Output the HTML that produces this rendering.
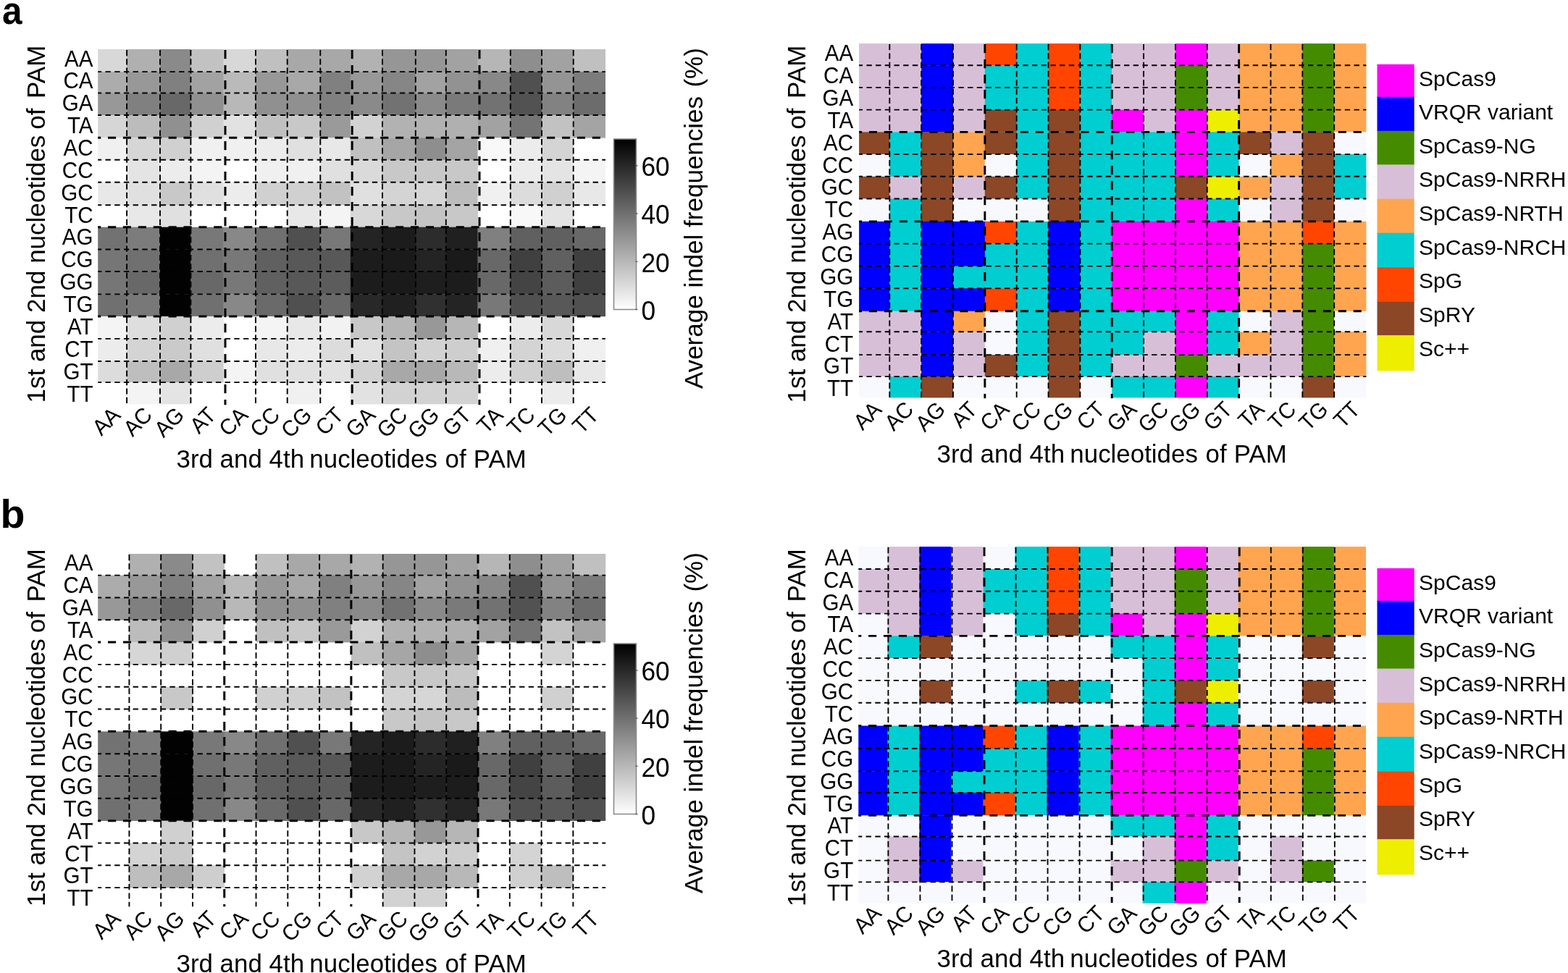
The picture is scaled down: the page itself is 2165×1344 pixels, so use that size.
<!DOCTYPE html>
<html lang="en">
<head>
<meta charset="utf-8">
<title>PAM heatmaps</title>
<style>
html,body{margin:0;padding:0;background:#fff;}
body{width:2165px;height:1344px;overflow:hidden;}
svg{display:block;font-family:'Liberation Sans', Arial, Helvetica, sans-serif;fill:#000;}
</style>
</head>
<body>
<svg width="2165" height="1344" viewBox="0 0 2165 1344" shape-rendering="geometricPrecision">
<rect x="0" y="0" width="2165" height="1344" fill="#fff"/>
<!-- panel a -->
<text font-size="53.8" font-weight="bold" transform="translate(3.0 32.5) scale(0.92 1)">a</text>
<g>
<rect x="135.2" y="68" width="40.2" height="31.4" fill="#d8d8d8"/>
<rect x="175.1" y="68" width="46.2" height="31.4" fill="#b0b0b0"/>
<rect x="221" y="68" width="42.7" height="31.4" fill="#8a8a8a"/>
<rect x="263.4" y="68" width="45.5" height="31.4" fill="#c2c2c2"/>
<rect x="308.6" y="68" width="44.7" height="31.4" fill="#d8d8d8"/>
<rect x="353" y="68" width="44" height="31.4" fill="#c0c0c0"/>
<rect x="396.7" y="68" width="87.4" height="31.4" fill="#a8a8a8"/>
<rect x="483.8" y="68" width="44.5" height="31.4" fill="#b2b2b2"/>
<rect x="528" y="68" width="88.1" height="31.4" fill="#969696"/>
<rect x="615.8" y="68" width="44.1" height="31.4" fill="#a2a2a2"/>
<rect x="659.6" y="68" width="45.5" height="31.4" fill="#b6b6b6"/>
<rect x="704.8" y="68" width="43.5" height="31.4" fill="#8e8e8e"/>
<rect x="748" y="68" width="44" height="31.4" fill="#a2a2a2"/>
<rect x="791.7" y="68" width="44.3" height="31.4" fill="#c0c0c0"/>
<rect x="135.2" y="99.1" width="40.2" height="29.7" fill="#acacac"/>
<rect x="175.1" y="99.1" width="46.2" height="29.7" fill="#989898"/>
<rect x="221" y="99.1" width="42.7" height="29.7" fill="#808080"/>
<rect x="263.4" y="99.1" width="45.5" height="29.7" fill="#a2a2a2"/>
<rect x="308.6" y="99.1" width="44.7" height="29.7" fill="#bababa"/>
<rect x="353" y="99.1" width="44" height="29.7" fill="#989898"/>
<rect x="396.7" y="99.1" width="45.9" height="29.7" fill="#a8a8a8"/>
<rect x="442.3" y="99.1" width="41.8" height="29.7" fill="#808080"/>
<rect x="483.8" y="99.1" width="44.5" height="29.7" fill="#989898"/>
<rect x="528" y="99.1" width="46.1" height="29.7" fill="#868686"/>
<rect x="573.8" y="99.1" width="42.3" height="29.7" fill="#a2a2a2"/>
<rect x="615.8" y="99.1" width="44.1" height="29.7" fill="#929292"/>
<rect x="659.6" y="99.1" width="45.5" height="29.7" fill="#888888"/>
<rect x="704.8" y="99.1" width="43.5" height="29.7" fill="#505050"/>
<rect x="748" y="99.1" width="44" height="29.7" fill="#949494"/>
<rect x="791.7" y="99.1" width="44.3" height="29.7" fill="#7c7c7c"/>
<rect x="135.2" y="128.5" width="40.2" height="30.8" fill="#989898"/>
<rect x="175.1" y="128.5" width="46.2" height="30.8" fill="#808080"/>
<rect x="221" y="128.5" width="42.7" height="30.8" fill="#686868"/>
<rect x="263.4" y="128.5" width="45.5" height="30.8" fill="#909090"/>
<rect x="308.6" y="128.5" width="44.7" height="30.8" fill="#b8b8b8"/>
<rect x="353" y="128.5" width="89.6" height="30.8" fill="#909090"/>
<rect x="442.3" y="128.5" width="41.8" height="30.8" fill="#808080"/>
<rect x="483.8" y="128.5" width="44.5" height="30.8" fill="#8a8a8a"/>
<rect x="528" y="128.5" width="46.1" height="30.8" fill="#727272"/>
<rect x="573.8" y="128.5" width="42.3" height="30.8" fill="#8a8a8a"/>
<rect x="615.8" y="128.5" width="44.1" height="30.8" fill="#7a7a7a"/>
<rect x="659.6" y="128.5" width="45.5" height="30.8" fill="#727272"/>
<rect x="704.8" y="128.5" width="43.5" height="30.8" fill="#525252"/>
<rect x="748" y="128.5" width="44" height="30.8" fill="#828282"/>
<rect x="791.7" y="128.5" width="44.3" height="30.8" fill="#6c6c6c"/>
<rect x="135.2" y="159" width="40.2" height="31.6" fill="#d6d6d6"/>
<rect x="175.1" y="159" width="46.2" height="31.6" fill="#bcbcbc"/>
<rect x="221" y="159" width="42.7" height="31.6" fill="#909090"/>
<rect x="263.4" y="159" width="45.5" height="31.6" fill="#d0d0d0"/>
<rect x="308.6" y="159" width="44.7" height="31.6" fill="#e2e2e2"/>
<rect x="353" y="159" width="44" height="31.6" fill="#c0c0c0"/>
<rect x="396.7" y="159" width="45.9" height="31.6" fill="#c8c8c8"/>
<rect x="442.3" y="159" width="41.8" height="31.6" fill="#9a9a9a"/>
<rect x="483.8" y="159" width="44.5" height="31.6" fill="#d2d2d2"/>
<rect x="528" y="159" width="88.1" height="31.6" fill="#b2b2b2"/>
<rect x="615.8" y="159" width="44.1" height="31.6" fill="#b0b0b0"/>
<rect x="659.6" y="159" width="45.5" height="31.6" fill="#a2a2a2"/>
<rect x="704.8" y="159" width="43.5" height="31.6" fill="#747474"/>
<rect x="748" y="159" width="44" height="31.6" fill="#c2c2c2"/>
<rect x="791.7" y="159" width="44.3" height="31.6" fill="#a4a4a4"/>
<rect x="135.2" y="190.3" width="40.2" height="30.7" fill="#f0f0f0"/>
<rect x="175.1" y="190.3" width="46.2" height="30.7" fill="#d6d6d6"/>
<rect x="221" y="190.3" width="42.7" height="30.7" fill="#d0d0d0"/>
<rect x="263.4" y="190.3" width="89.9" height="30.7" fill="#f0f0f0"/>
<rect x="353" y="190.3" width="44" height="30.7" fill="#ececec"/>
<rect x="396.7" y="190.3" width="45.9" height="30.7" fill="#e0e0e0"/>
<rect x="442.3" y="190.3" width="41.8" height="30.7" fill="#e8e8e8"/>
<rect x="483.8" y="190.3" width="44.5" height="30.7" fill="#c0c0c0"/>
<rect x="528" y="190.3" width="46.1" height="30.7" fill="#a6a6a6"/>
<rect x="573.8" y="190.3" width="42.3" height="30.7" fill="#8e8e8e"/>
<rect x="615.8" y="190.3" width="44.1" height="30.7" fill="#a4a4a4"/>
<rect x="659.6" y="190.3" width="45.5" height="30.7" fill="#f8f8f8"/>
<rect x="704.8" y="190.3" width="43.5" height="30.7" fill="#ececec"/>
<rect x="748" y="190.3" width="44" height="30.7" fill="#d4d4d4"/>
<rect x="175.1" y="220.7" width="46.2" height="31.3" fill="#e4e4e4"/>
<rect x="221" y="220.7" width="42.7" height="31.3" fill="#ececec"/>
<rect x="263.4" y="220.7" width="45.5" height="31.3" fill="#f4f4f4"/>
<rect x="353" y="220.7" width="89.6" height="31.3" fill="#f0f0f0"/>
<rect x="442.3" y="220.7" width="41.8" height="31.3" fill="#e0e0e0"/>
<rect x="483.8" y="220.7" width="44.5" height="31.3" fill="#dadada"/>
<rect x="528" y="220.7" width="131.9" height="31.3" fill="#c8c8c8"/>
<rect x="704.8" y="220.7" width="43.5" height="31.3" fill="#ececec"/>
<rect x="748" y="220.7" width="44" height="31.3" fill="#e4e4e4"/>
<rect x="791.7" y="220.7" width="44.3" height="31.3" fill="#f4f4f4"/>
<rect x="135.2" y="251.7" width="40.2" height="31.9" fill="#e8e8e8"/>
<rect x="175.1" y="251.7" width="46.2" height="31.9" fill="#e0e0e0"/>
<rect x="221" y="251.7" width="42.7" height="31.9" fill="#c8c8c8"/>
<rect x="263.4" y="251.7" width="45.5" height="31.9" fill="#e0e0e0"/>
<rect x="308.6" y="251.7" width="44.7" height="31.9" fill="#ececec"/>
<rect x="353" y="251.7" width="89.6" height="31.9" fill="#d0d0d0"/>
<rect x="442.3" y="251.7" width="41.8" height="31.9" fill="#c2c2c2"/>
<rect x="483.8" y="251.7" width="44.5" height="31.9" fill="#e0e0e0"/>
<rect x="528" y="251.7" width="46.1" height="31.9" fill="#d4d4d4"/>
<rect x="573.8" y="251.7" width="42.3" height="31.9" fill="#d6d6d6"/>
<rect x="615.8" y="251.7" width="44.1" height="31.9" fill="#bcbcbc"/>
<rect x="659.6" y="251.7" width="45.5" height="31.9" fill="#f0f0f0"/>
<rect x="704.8" y="251.7" width="43.5" height="31.9" fill="#dcdcdc"/>
<rect x="748" y="251.7" width="44" height="31.9" fill="#d0d0d0"/>
<rect x="791.7" y="251.7" width="44.3" height="31.9" fill="#e8e8e8"/>
<rect x="175.1" y="283.3" width="46.2" height="30.7" fill="#e8e8e8"/>
<rect x="221" y="283.3" width="42.7" height="30.7" fill="#e0e0e0"/>
<rect x="396.7" y="283.3" width="45.9" height="30.7" fill="#e8e8e8"/>
<rect x="442.3" y="283.3" width="41.8" height="30.7" fill="#f4f4f4"/>
<rect x="483.8" y="283.3" width="44.5" height="30.7" fill="#d8d8d8"/>
<rect x="528" y="283.3" width="46.1" height="30.7" fill="#c8c8c8"/>
<rect x="573.8" y="283.3" width="42.3" height="30.7" fill="#c4c4c4"/>
<rect x="615.8" y="283.3" width="44.1" height="30.7" fill="#c8c8c8"/>
<rect x="704.8" y="283.3" width="43.5" height="30.7" fill="#f8f8f8"/>
<rect x="748" y="283.3" width="44" height="30.7" fill="#e4e4e4"/>
<rect x="135.2" y="313.7" width="40.2" height="31.1" fill="#727272"/>
<rect x="175.1" y="313.7" width="46.2" height="31.1" fill="#7c7c7c"/>
<rect x="221" y="313.7" width="42.7" height="31.1" fill="#020202"/>
<rect x="263.4" y="313.7" width="45.5" height="31.1" fill="#787878"/>
<rect x="308.6" y="313.7" width="44.7" height="31.1" fill="#888888"/>
<rect x="353" y="313.7" width="44" height="31.1" fill="#707070"/>
<rect x="396.7" y="313.7" width="45.9" height="31.1" fill="#505050"/>
<rect x="442.3" y="313.7" width="41.8" height="31.1" fill="#787878"/>
<rect x="483.8" y="313.7" width="44.5" height="31.1" fill="#242424"/>
<rect x="528" y="313.7" width="46.1" height="31.1" fill="#1c1c1c"/>
<rect x="573.8" y="313.7" width="42.3" height="31.1" fill="#2c2c2c"/>
<rect x="615.8" y="313.7" width="44.1" height="31.1" fill="#202020"/>
<rect x="659.6" y="313.7" width="45.5" height="31.1" fill="#808080"/>
<rect x="704.8" y="313.7" width="87.2" height="31.1" fill="#606060"/>
<rect x="791.7" y="313.7" width="44.3" height="31.1" fill="#686868"/>
<rect x="135.2" y="344.5" width="40.2" height="30.8" fill="#767676"/>
<rect x="175.1" y="344.5" width="46.2" height="30.8" fill="#707070"/>
<rect x="221" y="344.5" width="42.7" height="30.8" fill="#020202"/>
<rect x="263.4" y="344.5" width="45.5" height="30.8" fill="#707070"/>
<rect x="308.6" y="344.5" width="44.7" height="30.8" fill="#787878"/>
<rect x="353" y="344.5" width="44" height="30.8" fill="#606060"/>
<rect x="396.7" y="344.5" width="87.4" height="30.8" fill="#585858"/>
<rect x="483.8" y="344.5" width="44.5" height="30.8" fill="#1c1c1c"/>
<rect x="528" y="344.5" width="46.1" height="30.8" fill="#1a1a1a"/>
<rect x="573.8" y="344.5" width="42.3" height="30.8" fill="#242424"/>
<rect x="615.8" y="344.5" width="44.1" height="30.8" fill="#1a1a1a"/>
<rect x="659.6" y="344.5" width="45.5" height="30.8" fill="#686868"/>
<rect x="704.8" y="344.5" width="43.5" height="30.8" fill="#404040"/>
<rect x="748" y="344.5" width="44" height="30.8" fill="#606060"/>
<rect x="791.7" y="344.5" width="44.3" height="30.8" fill="#404040"/>
<rect x="135.2" y="375" width="40.2" height="31.7" fill="#767676"/>
<rect x="175.1" y="375" width="46.2" height="31.7" fill="#686868"/>
<rect x="221" y="375" width="42.7" height="31.7" fill="#020202"/>
<rect x="263.4" y="375" width="45.5" height="31.7" fill="#686868"/>
<rect x="308.6" y="375" width="44.7" height="31.7" fill="#787878"/>
<rect x="353" y="375" width="44" height="31.7" fill="#606060"/>
<rect x="396.7" y="375" width="45.9" height="31.7" fill="#585858"/>
<rect x="442.3" y="375" width="41.8" height="31.7" fill="#5c5c5c"/>
<rect x="483.8" y="375" width="44.5" height="31.7" fill="#1c1c1c"/>
<rect x="528" y="375" width="46.1" height="31.7" fill="#1a1a1a"/>
<rect x="573.8" y="375" width="42.3" height="31.7" fill="#1e1e1e"/>
<rect x="615.8" y="375" width="44.1" height="31.7" fill="#1c1c1c"/>
<rect x="659.6" y="375" width="45.5" height="31.7" fill="#686868"/>
<rect x="704.8" y="375" width="43.5" height="31.7" fill="#444444"/>
<rect x="748" y="375" width="44" height="31.7" fill="#5c5c5c"/>
<rect x="791.7" y="375" width="44.3" height="31.7" fill="#404040"/>
<rect x="135.2" y="406.4" width="40.2" height="30.8" fill="#707070"/>
<rect x="175.1" y="406.4" width="46.2" height="30.8" fill="#787878"/>
<rect x="221" y="406.4" width="42.7" height="30.8" fill="#020202"/>
<rect x="263.4" y="406.4" width="45.5" height="30.8" fill="#707070"/>
<rect x="308.6" y="406.4" width="44.7" height="30.8" fill="#888888"/>
<rect x="353" y="406.4" width="44" height="30.8" fill="#6a6a6a"/>
<rect x="396.7" y="406.4" width="45.9" height="30.8" fill="#505050"/>
<rect x="442.3" y="406.4" width="41.8" height="30.8" fill="#686868"/>
<rect x="483.8" y="406.4" width="44.5" height="30.8" fill="#282828"/>
<rect x="528" y="406.4" width="46.1" height="30.8" fill="#202020"/>
<rect x="573.8" y="406.4" width="42.3" height="30.8" fill="#303030"/>
<rect x="615.8" y="406.4" width="44.1" height="30.8" fill="#242424"/>
<rect x="659.6" y="406.4" width="45.5" height="30.8" fill="#787878"/>
<rect x="704.8" y="406.4" width="43.5" height="30.8" fill="#505050"/>
<rect x="748" y="406.4" width="44" height="30.8" fill="#585858"/>
<rect x="791.7" y="406.4" width="44.3" height="30.8" fill="#505050"/>
<rect x="135.2" y="436.9" width="40.2" height="31.3" fill="#f4f4f4"/>
<rect x="175.1" y="436.9" width="46.2" height="31.3" fill="#dedede"/>
<rect x="221" y="436.9" width="42.7" height="31.3" fill="#d0d0d0"/>
<rect x="263.4" y="436.9" width="45.5" height="31.3" fill="#ececec"/>
<rect x="353" y="436.9" width="44" height="31.3" fill="#f4f4f4"/>
<rect x="396.7" y="436.9" width="45.9" height="31.3" fill="#e8e8e8"/>
<rect x="442.3" y="436.9" width="41.8" height="31.3" fill="#f2f2f2"/>
<rect x="483.8" y="436.9" width="44.5" height="31.3" fill="#c8c8c8"/>
<rect x="528" y="436.9" width="46.1" height="31.3" fill="#b6b6b6"/>
<rect x="573.8" y="436.9" width="42.3" height="31.3" fill="#989898"/>
<rect x="615.8" y="436.9" width="44.1" height="31.3" fill="#b6b6b6"/>
<rect x="704.8" y="436.9" width="43.5" height="31.3" fill="#ececec"/>
<rect x="748" y="436.9" width="44" height="31.3" fill="#d8d8d8"/>
<rect x="135.2" y="467.9" width="40.2" height="31.4" fill="#ececec"/>
<rect x="175.1" y="467.9" width="46.2" height="31.4" fill="#d4d4d4"/>
<rect x="221" y="467.9" width="42.7" height="31.4" fill="#cacaca"/>
<rect x="263.4" y="467.9" width="45.5" height="31.4" fill="#e0e0e0"/>
<rect x="353" y="467.9" width="44" height="31.4" fill="#e8e8e8"/>
<rect x="396.7" y="467.9" width="45.9" height="31.4" fill="#ececec"/>
<rect x="442.3" y="467.9" width="41.8" height="31.4" fill="#dcdcdc"/>
<rect x="483.8" y="467.9" width="44.5" height="31.4" fill="#e2e2e2"/>
<rect x="528" y="467.9" width="46.1" height="31.4" fill="#c4c4c4"/>
<rect x="573.8" y="467.9" width="42.3" height="31.4" fill="#d2d2d2"/>
<rect x="615.8" y="467.9" width="44.1" height="31.4" fill="#cecece"/>
<rect x="659.6" y="467.9" width="45.5" height="31.4" fill="#f0f0f0"/>
<rect x="704.8" y="467.9" width="43.5" height="31.4" fill="#d4d4d4"/>
<rect x="748" y="467.9" width="44" height="31.4" fill="#dcdcdc"/>
<rect x="791.7" y="467.9" width="44.3" height="31.4" fill="#f0f0f0"/>
<rect x="135.2" y="499" width="40.2" height="29.4" fill="#dcdcdc"/>
<rect x="175.1" y="499" width="46.2" height="29.4" fill="#bebebe"/>
<rect x="221" y="499" width="42.7" height="29.4" fill="#a8a8a8"/>
<rect x="263.4" y="499" width="45.5" height="29.4" fill="#cecece"/>
<rect x="308.6" y="499" width="44.7" height="29.4" fill="#f4f4f4"/>
<rect x="353" y="499" width="89.6" height="29.4" fill="#e0e0e0"/>
<rect x="442.3" y="499" width="41.8" height="29.4" fill="#e2e2e2"/>
<rect x="483.8" y="499" width="44.5" height="29.4" fill="#d2d2d2"/>
<rect x="528" y="499" width="88.1" height="29.4" fill="#a8a8a8"/>
<rect x="615.8" y="499" width="44.1" height="29.4" fill="#b8b8b8"/>
<rect x="659.6" y="499" width="45.5" height="29.4" fill="#ececec"/>
<rect x="704.8" y="499" width="43.5" height="29.4" fill="#d0d0d0"/>
<rect x="748" y="499" width="44" height="29.4" fill="#bebebe"/>
<rect x="791.7" y="499" width="44.3" height="29.4" fill="#e8e8e8"/>
<rect x="175.1" y="528.1" width="46.2" height="30.3" fill="#f4f4f4"/>
<rect x="221" y="528.1" width="42.7" height="30.3" fill="#e4e4e4"/>
<rect x="396.7" y="528.1" width="45.9" height="30.3" fill="#f0f0f0"/>
<rect x="483.8" y="528.1" width="44.5" height="30.3" fill="#e2e2e2"/>
<rect x="528" y="528.1" width="131.9" height="30.3" fill="#d2d2d2"/>
<rect x="748" y="528.1" width="44" height="30.3" fill="#ececec"/>
</g>
<g stroke="#000" fill="none" stroke-width="1.9">
<line x1="175.1" y1="68" x2="175.1" y2="559.2" stroke-dasharray="8.2 4.1" stroke-dashoffset="-1"/>
<line x1="221" y1="68" x2="221" y2="559.2" stroke-dasharray="8.2 4.1" stroke-dashoffset="-1"/>
<line x1="263.4" y1="68" x2="263.4" y2="559.2" stroke-dasharray="8.2 4.1" stroke-dashoffset="-1"/>
<line x1="311" y1="68" x2="311" y2="559.2" stroke-width="3" stroke-dasharray="12.2 8.8" stroke-dashoffset="-1"/>
<line x1="353" y1="68" x2="353" y2="559.2" stroke-dasharray="8.2 4.1" stroke-dashoffset="-1"/>
<line x1="396.7" y1="68" x2="396.7" y2="559.2" stroke-dasharray="8.2 4.1" stroke-dashoffset="-1"/>
<line x1="442.3" y1="68" x2="442.3" y2="559.2" stroke-dasharray="8.2 4.1" stroke-dashoffset="-1"/>
<line x1="486.2" y1="68" x2="486.2" y2="559.2" stroke-width="3" stroke-dasharray="12.2 8.8" stroke-dashoffset="-1"/>
<line x1="528" y1="68" x2="528" y2="559.2" stroke-dasharray="8.2 4.1" stroke-dashoffset="-1"/>
<line x1="573.8" y1="68" x2="573.8" y2="559.2" stroke-dasharray="8.2 4.1" stroke-dashoffset="-1"/>
<line x1="615.8" y1="68" x2="615.8" y2="559.2" stroke-dasharray="8.2 4.1" stroke-dashoffset="-1"/>
<line x1="662" y1="68" x2="662" y2="559.2" stroke-width="3" stroke-dasharray="12.2 8.8" stroke-dashoffset="-1"/>
<line x1="704.8" y1="68" x2="704.8" y2="559.2" stroke-dasharray="8.2 4.1" stroke-dashoffset="-1"/>
<line x1="748" y1="68" x2="748" y2="559.2" stroke-dasharray="8.2 4.1" stroke-dashoffset="-1"/>
<line x1="791.7" y1="68" x2="791.7" y2="559.2" stroke-dasharray="8.2 4.1" stroke-dashoffset="-1"/>
<line x1="135.2" y1="99.1" x2="836" y2="99.1" stroke-dasharray="7.4 5.3" stroke-dashoffset="2.4"/>
<line x1="135.2" y1="128.5" x2="836" y2="128.5" stroke-dasharray="7.4 5.3" stroke-dashoffset="2.4"/>
<line x1="135.2" y1="159" x2="836" y2="159" stroke-dasharray="7.4 5.3" stroke-dashoffset="2.4"/>
<line x1="135.2" y1="190.3" x2="836" y2="190.3" stroke-width="3" stroke-dasharray="11.1 9.8" stroke-dashoffset="7.1"/>
<line x1="135.2" y1="220.7" x2="836" y2="220.7" stroke-dasharray="7.4 5.3" stroke-dashoffset="2.4"/>
<line x1="135.2" y1="251.7" x2="836" y2="251.7" stroke-dasharray="7.4 5.3" stroke-dashoffset="2.4"/>
<line x1="135.2" y1="283.3" x2="836" y2="283.3" stroke-dasharray="7.4 5.3" stroke-dashoffset="2.4"/>
<line x1="135.2" y1="313.7" x2="836" y2="313.7" stroke-width="3" stroke-dasharray="11.1 9.8" stroke-dashoffset="7.1"/>
<line x1="135.2" y1="344.5" x2="836" y2="344.5" stroke-dasharray="7.4 5.3" stroke-dashoffset="2.4"/>
<line x1="135.2" y1="375" x2="836" y2="375" stroke-dasharray="7.4 5.3" stroke-dashoffset="2.4"/>
<line x1="135.2" y1="406.4" x2="836" y2="406.4" stroke-dasharray="7.4 5.3" stroke-dashoffset="2.4"/>
<line x1="135.2" y1="436.9" x2="836" y2="436.9" stroke-width="3" stroke-dasharray="11.1 9.8" stroke-dashoffset="7.1"/>
<line x1="135.2" y1="467.9" x2="836" y2="467.9" stroke-dasharray="7.4 5.3" stroke-dashoffset="2.4"/>
<line x1="135.2" y1="499" x2="836" y2="499" stroke-dasharray="7.4 5.3" stroke-dashoffset="2.4"/>
<line x1="135.2" y1="528.1" x2="836" y2="528.1" stroke-dasharray="7.4 5.3" stroke-dashoffset="2.4"/>
</g>
<g font-size="29.6" text-anchor="end">
<text transform="translate(128.6 91.6) scale(1 1.035)">AA</text>
<text transform="translate(128.6 122.46) scale(1 1.035)">CA</text>
<text transform="translate(128.6 153.32) scale(1 1.035)">GA</text>
<text transform="translate(128.6 184.18) scale(1 1.035)">TA</text>
<text transform="translate(128.6 215.04) scale(1 1.035)">AC</text>
<text transform="translate(128.6 245.9) scale(1 1.035)">CC</text>
<text transform="translate(128.6 276.76) scale(1 1.035)">GC</text>
<text transform="translate(128.6 307.62) scale(1 1.035)">TC</text>
<text transform="translate(128.6 338.48) scale(1 1.035)">AG</text>
<text transform="translate(128.6 369.34) scale(1 1.035)">CG</text>
<text transform="translate(128.6 400.2) scale(1 1.035)">GG</text>
<text transform="translate(128.6 431.06) scale(1 1.035)">TG</text>
<text transform="translate(128.6 461.92) scale(1 1.035)">AT</text>
<text transform="translate(128.6 492.78) scale(1 1.035)">CT</text>
<text transform="translate(128.6 523.64) scale(1 1.035)">GT</text>
<text transform="translate(128.6 554.5) scale(1 1.035)">TT</text>
</g>
<g font-size="29.6" text-anchor="end">
<text transform="translate(167.9 575.2) rotate(-45) scale(1 1.035)">AA</text>
<text transform="translate(211.95 575.2) rotate(-45) scale(1 1.035)">AC</text>
<text transform="translate(256 575.2) rotate(-45) scale(1 1.035)">AG</text>
<text transform="translate(300.05 575.2) rotate(-45) scale(1 1.035)">AT</text>
<text transform="translate(344.1 575.2) rotate(-45) scale(1 1.035)">CA</text>
<text transform="translate(388.15 575.2) rotate(-45) scale(1 1.035)">CC</text>
<text transform="translate(432.2 575.2) rotate(-45) scale(1 1.035)">CG</text>
<text transform="translate(476.25 575.2) rotate(-45) scale(1 1.035)">CT</text>
<text transform="translate(520.3 575.2) rotate(-45) scale(1 1.035)">GA</text>
<text transform="translate(564.35 575.2) rotate(-45) scale(1 1.035)">GC</text>
<text transform="translate(608.4 575.2) rotate(-45) scale(1 1.035)">GG</text>
<text transform="translate(652.45 575.2) rotate(-45) scale(1 1.035)">GT</text>
<text transform="translate(696.5 575.2) rotate(-45) scale(1 1.035)">TA</text>
<text transform="translate(740.55 575.2) rotate(-45) scale(1 1.035)">TC</text>
<text transform="translate(784.6 575.2) rotate(-45) scale(1 1.035)">TG</text>
<text transform="translate(828.65 575.2) rotate(-45) scale(1 1.035)">TT</text>
</g>
<text font-size="34.9" x="243.5" y="645.7">3rd and 4th<tspan dx="-2.4"> nucleotides</tspan><tspan dx="1"> of</tspan><tspan dx="0.5"> PAM</tspan></text>
<text font-size="35" text-anchor="middle" transform="translate(62 309.6) rotate(-90)">1st and 2nd nucleotides<tspan dx="-1.6"> of</tspan><tspan dx="3.8"> PAM</tspan></text>
<defs><linearGradient id="cba" x1="0" y1="0" x2="0" y2="1"><stop offset="0" stop-color="#000"/><stop offset="1" stop-color="#fff"/></linearGradient></defs>
<rect x="847.5" y="192" width="31" height="235.5" fill="url(#cba)" stroke="#8c8c8c" stroke-width="1.6"/>
<g font-size="35.3" text-anchor="start">
<line x1="877.5" y1="427.5" x2="880.5" y2="427.5" stroke="#555" stroke-width="1.3"/>
<text transform="translate(885.5 441.7) scale(1 1.035)">0</text>
<line x1="877.5" y1="361.3" x2="880.5" y2="361.3" stroke="#555" stroke-width="1.3"/>
<text transform="translate(885.5 375.5) scale(1 1.035)">20</text>
<line x1="877.5" y1="295.1" x2="880.5" y2="295.1" stroke="#555" stroke-width="1.3"/>
<text transform="translate(885.5 309.3) scale(1 1.035)">40</text>
<line x1="877.5" y1="228.9" x2="880.5" y2="228.9" stroke="#555" stroke-width="1.3"/>
<text transform="translate(885.5 243.1) scale(1 1.035)">60</text>
</g>
<text font-size="35" text-anchor="middle" transform="translate(970 301.6) rotate(-90)">Average indel frequencies<tspan dx="2.7"> (%)</tspan></text>
<g>
<rect x="1186.1" y="60.1" width="86.35" height="30.41" fill="#d8bfd8"/>
<rect x="1272.15" y="60.1" width="44.15" height="30.41" fill="#0000ff"/>
<rect x="1316" y="60.1" width="44.15" height="30.41" fill="#d8bfd8"/>
<rect x="1359.85" y="60.1" width="44.15" height="30.41" fill="#ff4500"/>
<rect x="1403.7" y="60.1" width="44.15" height="30.41" fill="#00ced1"/>
<rect x="1447.55" y="60.1" width="44.15" height="30.41" fill="#ff4500"/>
<rect x="1491.4" y="60.1" width="44.15" height="30.41" fill="#00ced1"/>
<rect x="1535.25" y="60.1" width="88" height="30.41" fill="#d8bfd8"/>
<rect x="1622.95" y="60.1" width="44.15" height="30.41" fill="#ff00ff"/>
<rect x="1666.8" y="60.1" width="44.15" height="30.41" fill="#d8bfd8"/>
<rect x="1710.65" y="60.1" width="88" height="30.41" fill="#ffa54f"/>
<rect x="1798.35" y="60.1" width="44.15" height="30.41" fill="#458b00"/>
<rect x="1842.2" y="60.1" width="44.2" height="30.41" fill="#ffa54f"/>
<rect x="1186.1" y="90.21" width="86.35" height="31.01" fill="#d8bfd8"/>
<rect x="1272.15" y="90.21" width="44.15" height="31.01" fill="#0000ff"/>
<rect x="1316" y="90.21" width="44.15" height="31.01" fill="#d8bfd8"/>
<rect x="1359.85" y="90.21" width="88" height="31.01" fill="#00ced1"/>
<rect x="1447.55" y="90.21" width="44.15" height="31.01" fill="#ff4500"/>
<rect x="1491.4" y="90.21" width="44.15" height="31.01" fill="#00ced1"/>
<rect x="1535.25" y="90.21" width="88" height="31.01" fill="#d8bfd8"/>
<rect x="1622.95" y="90.21" width="44.15" height="31.01" fill="#458b00"/>
<rect x="1666.8" y="90.21" width="44.15" height="31.01" fill="#d8bfd8"/>
<rect x="1710.65" y="90.21" width="88" height="31.01" fill="#ffa54f"/>
<rect x="1798.35" y="90.21" width="44.15" height="31.01" fill="#458b00"/>
<rect x="1842.2" y="90.21" width="44.2" height="31.01" fill="#ffa54f"/>
<rect x="1186.1" y="120.92" width="86.35" height="31.01" fill="#d8bfd8"/>
<rect x="1272.15" y="120.92" width="44.15" height="31.01" fill="#0000ff"/>
<rect x="1316" y="120.92" width="44.15" height="31.01" fill="#d8bfd8"/>
<rect x="1359.85" y="120.92" width="88" height="31.01" fill="#00ced1"/>
<rect x="1447.55" y="120.92" width="44.15" height="31.01" fill="#ff4500"/>
<rect x="1491.4" y="120.92" width="44.15" height="31.01" fill="#00ced1"/>
<rect x="1535.25" y="120.92" width="88" height="31.01" fill="#d8bfd8"/>
<rect x="1622.95" y="120.92" width="44.15" height="31.01" fill="#458b00"/>
<rect x="1666.8" y="120.92" width="44.15" height="31.01" fill="#d8bfd8"/>
<rect x="1710.65" y="120.92" width="88" height="31.01" fill="#ffa54f"/>
<rect x="1798.35" y="120.92" width="44.15" height="31.01" fill="#458b00"/>
<rect x="1842.2" y="120.92" width="44.2" height="31.01" fill="#ffa54f"/>
<rect x="1186.1" y="151.63" width="86.35" height="31.01" fill="#d8bfd8"/>
<rect x="1272.15" y="151.63" width="44.15" height="31.01" fill="#0000ff"/>
<rect x="1316" y="151.63" width="44.15" height="31.01" fill="#d8bfd8"/>
<rect x="1359.85" y="151.63" width="44.15" height="31.01" fill="#8b4726"/>
<rect x="1403.7" y="151.63" width="44.15" height="31.01" fill="#00ced1"/>
<rect x="1447.55" y="151.63" width="44.15" height="31.01" fill="#8b4726"/>
<rect x="1491.4" y="151.63" width="44.15" height="31.01" fill="#00ced1"/>
<rect x="1535.25" y="151.63" width="44.15" height="31.01" fill="#ff00ff"/>
<rect x="1579.1" y="151.63" width="44.15" height="31.01" fill="#d8bfd8"/>
<rect x="1622.95" y="151.63" width="44.15" height="31.01" fill="#ff00ff"/>
<rect x="1666.8" y="151.63" width="44.15" height="31.01" fill="#eeee00"/>
<rect x="1710.65" y="151.63" width="88" height="31.01" fill="#ffa54f"/>
<rect x="1798.35" y="151.63" width="44.15" height="31.01" fill="#458b00"/>
<rect x="1842.2" y="151.63" width="44.2" height="31.01" fill="#ffa54f"/>
<rect x="1186.1" y="182.34" width="42.5" height="31.01" fill="#8b4726"/>
<rect x="1228.3" y="182.34" width="44.15" height="31.01" fill="#00ced1"/>
<rect x="1272.15" y="182.34" width="44.15" height="31.01" fill="#8b4726"/>
<rect x="1316" y="182.34" width="44.15" height="31.01" fill="#ffa54f"/>
<rect x="1359.85" y="182.34" width="44.15" height="31.01" fill="#8b4726"/>
<rect x="1403.7" y="182.34" width="44.15" height="31.01" fill="#00ced1"/>
<rect x="1447.55" y="182.34" width="44.15" height="31.01" fill="#8b4726"/>
<rect x="1491.4" y="182.34" width="131.85" height="31.01" fill="#00ced1"/>
<rect x="1622.95" y="182.34" width="44.15" height="31.01" fill="#ff00ff"/>
<rect x="1666.8" y="182.34" width="44.15" height="31.01" fill="#00ced1"/>
<rect x="1710.65" y="182.34" width="44.15" height="31.01" fill="#8b4726"/>
<rect x="1754.5" y="182.34" width="44.15" height="31.01" fill="#d8bfd8"/>
<rect x="1798.35" y="182.34" width="44.15" height="31.01" fill="#8b4726"/>
<rect x="1842.2" y="182.34" width="44.2" height="31.01" fill="#f8f8ff"/>
<rect x="1186.1" y="213.05" width="42.5" height="31.01" fill="#f8f8ff"/>
<rect x="1228.3" y="213.05" width="44.15" height="31.01" fill="#00ced1"/>
<rect x="1272.15" y="213.05" width="44.15" height="31.01" fill="#8b4726"/>
<rect x="1316" y="213.05" width="44.15" height="31.01" fill="#ffa54f"/>
<rect x="1359.85" y="213.05" width="44.15" height="31.01" fill="#f8f8ff"/>
<rect x="1403.7" y="213.05" width="44.15" height="31.01" fill="#00ced1"/>
<rect x="1447.55" y="213.05" width="44.15" height="31.01" fill="#8b4726"/>
<rect x="1491.4" y="213.05" width="131.85" height="31.01" fill="#00ced1"/>
<rect x="1622.95" y="213.05" width="44.15" height="31.01" fill="#ff00ff"/>
<rect x="1666.8" y="213.05" width="44.15" height="31.01" fill="#00ced1"/>
<rect x="1710.65" y="213.05" width="44.15" height="31.01" fill="#f8f8ff"/>
<rect x="1754.5" y="213.05" width="44.15" height="31.01" fill="#ffa54f"/>
<rect x="1798.35" y="213.05" width="44.15" height="31.01" fill="#8b4726"/>
<rect x="1842.2" y="213.05" width="44.2" height="31.01" fill="#00ced1"/>
<rect x="1186.1" y="243.76" width="42.5" height="31.01" fill="#8b4726"/>
<rect x="1228.3" y="243.76" width="44.15" height="31.01" fill="#d8bfd8"/>
<rect x="1272.15" y="243.76" width="44.15" height="31.01" fill="#8b4726"/>
<rect x="1316" y="243.76" width="44.15" height="31.01" fill="#d8bfd8"/>
<rect x="1359.85" y="243.76" width="44.15" height="31.01" fill="#8b4726"/>
<rect x="1403.7" y="243.76" width="44.15" height="31.01" fill="#00ced1"/>
<rect x="1447.55" y="243.76" width="44.15" height="31.01" fill="#8b4726"/>
<rect x="1491.4" y="243.76" width="131.85" height="31.01" fill="#00ced1"/>
<rect x="1622.95" y="243.76" width="44.15" height="31.01" fill="#8b4726"/>
<rect x="1666.8" y="243.76" width="44.15" height="31.01" fill="#eeee00"/>
<rect x="1710.65" y="243.76" width="44.15" height="31.01" fill="#ffa54f"/>
<rect x="1754.5" y="243.76" width="44.15" height="31.01" fill="#d8bfd8"/>
<rect x="1798.35" y="243.76" width="44.15" height="31.01" fill="#8b4726"/>
<rect x="1842.2" y="243.76" width="44.2" height="31.01" fill="#00ced1"/>
<rect x="1186.1" y="274.47" width="42.5" height="31.71" fill="#f8f8ff"/>
<rect x="1228.3" y="274.47" width="44.15" height="31.71" fill="#00ced1"/>
<rect x="1272.15" y="274.47" width="44.15" height="31.71" fill="#8b4726"/>
<rect x="1316" y="274.47" width="131.85" height="31.71" fill="#f8f8ff"/>
<rect x="1447.55" y="274.47" width="44.15" height="31.71" fill="#8b4726"/>
<rect x="1491.4" y="274.47" width="131.85" height="31.71" fill="#00ced1"/>
<rect x="1622.95" y="274.47" width="44.15" height="31.71" fill="#ff00ff"/>
<rect x="1666.8" y="274.47" width="44.15" height="31.71" fill="#00ced1"/>
<rect x="1710.65" y="274.47" width="44.15" height="31.71" fill="#f8f8ff"/>
<rect x="1754.5" y="274.47" width="44.15" height="31.71" fill="#d8bfd8"/>
<rect x="1798.35" y="274.47" width="44.15" height="31.71" fill="#8b4726"/>
<rect x="1842.2" y="274.47" width="44.2" height="31.71" fill="#f8f8ff"/>
<rect x="1186.1" y="305.88" width="42.5" height="31.01" fill="#0000ff"/>
<rect x="1228.3" y="305.88" width="44.15" height="31.01" fill="#00ced1"/>
<rect x="1272.15" y="305.88" width="88" height="31.01" fill="#0000ff"/>
<rect x="1359.85" y="305.88" width="44.15" height="31.01" fill="#ff4500"/>
<rect x="1403.7" y="305.88" width="44.15" height="31.01" fill="#00ced1"/>
<rect x="1447.55" y="305.88" width="44.15" height="31.01" fill="#0000ff"/>
<rect x="1491.4" y="305.88" width="44.15" height="31.01" fill="#00ced1"/>
<rect x="1535.25" y="305.88" width="175.7" height="31.01" fill="#ff00ff"/>
<rect x="1710.65" y="305.88" width="88" height="31.01" fill="#ffa54f"/>
<rect x="1798.35" y="305.88" width="44.15" height="31.01" fill="#ff4500"/>
<rect x="1842.2" y="305.88" width="44.2" height="31.01" fill="#ffa54f"/>
<rect x="1186.1" y="336.59" width="42.5" height="31.31" fill="#0000ff"/>
<rect x="1228.3" y="336.59" width="44.15" height="31.31" fill="#00ced1"/>
<rect x="1272.15" y="336.59" width="88" height="31.31" fill="#0000ff"/>
<rect x="1359.85" y="336.59" width="88" height="31.31" fill="#00ced1"/>
<rect x="1447.55" y="336.59" width="44.15" height="31.31" fill="#0000ff"/>
<rect x="1491.4" y="336.59" width="44.15" height="31.31" fill="#00ced1"/>
<rect x="1535.25" y="336.59" width="175.7" height="31.31" fill="#ff00ff"/>
<rect x="1710.65" y="336.59" width="88" height="31.31" fill="#ffa54f"/>
<rect x="1798.35" y="336.59" width="44.15" height="31.31" fill="#458b00"/>
<rect x="1842.2" y="336.59" width="44.2" height="31.31" fill="#ffa54f"/>
<rect x="1186.1" y="367.6" width="42.5" height="31.01" fill="#0000ff"/>
<rect x="1228.3" y="367.6" width="44.15" height="31.01" fill="#00ced1"/>
<rect x="1272.15" y="367.6" width="44.15" height="31.01" fill="#0000ff"/>
<rect x="1316" y="367.6" width="131.85" height="31.01" fill="#00ced1"/>
<rect x="1447.55" y="367.6" width="44.15" height="31.01" fill="#0000ff"/>
<rect x="1491.4" y="367.6" width="44.15" height="31.01" fill="#00ced1"/>
<rect x="1535.25" y="367.6" width="175.7" height="31.01" fill="#ff00ff"/>
<rect x="1710.65" y="367.6" width="88" height="31.01" fill="#ffa54f"/>
<rect x="1798.35" y="367.6" width="44.15" height="31.01" fill="#458b00"/>
<rect x="1842.2" y="367.6" width="44.2" height="31.01" fill="#ffa54f"/>
<rect x="1186.1" y="398.31" width="42.5" height="31.71" fill="#0000ff"/>
<rect x="1228.3" y="398.31" width="44.15" height="31.71" fill="#00ced1"/>
<rect x="1272.15" y="398.31" width="88" height="31.71" fill="#0000ff"/>
<rect x="1359.85" y="398.31" width="44.15" height="31.71" fill="#ff4500"/>
<rect x="1403.7" y="398.31" width="44.15" height="31.71" fill="#00ced1"/>
<rect x="1447.55" y="398.31" width="44.15" height="31.71" fill="#0000ff"/>
<rect x="1491.4" y="398.31" width="44.15" height="31.71" fill="#00ced1"/>
<rect x="1535.25" y="398.31" width="175.7" height="31.71" fill="#ff00ff"/>
<rect x="1710.65" y="398.31" width="88" height="31.71" fill="#ffa54f"/>
<rect x="1798.35" y="398.31" width="44.15" height="31.71" fill="#458b00"/>
<rect x="1842.2" y="398.31" width="44.2" height="31.71" fill="#ffa54f"/>
<rect x="1186.1" y="429.72" width="86.35" height="28.81" fill="#d8bfd8"/>
<rect x="1272.15" y="429.72" width="44.15" height="28.81" fill="#0000ff"/>
<rect x="1316" y="429.72" width="44.15" height="28.81" fill="#ffa54f"/>
<rect x="1359.85" y="429.72" width="44.15" height="28.81" fill="#f8f8ff"/>
<rect x="1403.7" y="429.72" width="44.15" height="28.81" fill="#00ced1"/>
<rect x="1447.55" y="429.72" width="44.15" height="28.81" fill="#8b4726"/>
<rect x="1491.4" y="429.72" width="131.85" height="28.81" fill="#00ced1"/>
<rect x="1622.95" y="429.72" width="44.15" height="28.81" fill="#ff00ff"/>
<rect x="1666.8" y="429.72" width="44.15" height="28.81" fill="#00ced1"/>
<rect x="1710.65" y="429.72" width="44.15" height="28.81" fill="#f8f8ff"/>
<rect x="1754.5" y="429.72" width="44.15" height="28.81" fill="#d8bfd8"/>
<rect x="1798.35" y="429.72" width="44.15" height="28.81" fill="#458b00"/>
<rect x="1842.2" y="429.72" width="44.2" height="28.81" fill="#f8f8ff"/>
<rect x="1186.1" y="458.23" width="86.35" height="32.21" fill="#d8bfd8"/>
<rect x="1272.15" y="458.23" width="44.15" height="32.21" fill="#0000ff"/>
<rect x="1316" y="458.23" width="44.15" height="32.21" fill="#d8bfd8"/>
<rect x="1359.85" y="458.23" width="44.15" height="32.21" fill="#f8f8ff"/>
<rect x="1403.7" y="458.23" width="44.15" height="32.21" fill="#00ced1"/>
<rect x="1447.55" y="458.23" width="44.15" height="32.21" fill="#8b4726"/>
<rect x="1491.4" y="458.23" width="88" height="32.21" fill="#00ced1"/>
<rect x="1579.1" y="458.23" width="44.15" height="32.21" fill="#d8bfd8"/>
<rect x="1622.95" y="458.23" width="44.15" height="32.21" fill="#ff00ff"/>
<rect x="1666.8" y="458.23" width="44.15" height="32.21" fill="#00ced1"/>
<rect x="1710.65" y="458.23" width="44.15" height="32.21" fill="#ffa54f"/>
<rect x="1754.5" y="458.23" width="44.15" height="32.21" fill="#d8bfd8"/>
<rect x="1798.35" y="458.23" width="44.15" height="32.21" fill="#458b00"/>
<rect x="1842.2" y="458.23" width="44.2" height="32.21" fill="#ffa54f"/>
<rect x="1186.1" y="490.14" width="86.35" height="30.31" fill="#d8bfd8"/>
<rect x="1272.15" y="490.14" width="44.15" height="30.31" fill="#0000ff"/>
<rect x="1316" y="490.14" width="44.15" height="30.31" fill="#d8bfd8"/>
<rect x="1359.85" y="490.14" width="44.15" height="30.31" fill="#8b4726"/>
<rect x="1403.7" y="490.14" width="44.15" height="30.31" fill="#00ced1"/>
<rect x="1447.55" y="490.14" width="44.15" height="30.31" fill="#8b4726"/>
<rect x="1491.4" y="490.14" width="44.15" height="30.31" fill="#00ced1"/>
<rect x="1535.25" y="490.14" width="88" height="30.31" fill="#d8bfd8"/>
<rect x="1622.95" y="490.14" width="44.15" height="30.31" fill="#458b00"/>
<rect x="1666.8" y="490.14" width="131.85" height="30.31" fill="#d8bfd8"/>
<rect x="1798.35" y="490.14" width="44.15" height="30.31" fill="#458b00"/>
<rect x="1842.2" y="490.14" width="44.2" height="30.31" fill="#ffa54f"/>
<rect x="1186.1" y="520.15" width="42.5" height="29.25" fill="#f8f8ff"/>
<rect x="1228.3" y="520.15" width="44.15" height="29.25" fill="#00ced1"/>
<rect x="1272.15" y="520.15" width="44.15" height="29.25" fill="#8b4726"/>
<rect x="1316" y="520.15" width="131.85" height="29.25" fill="#f8f8ff"/>
<rect x="1447.55" y="520.15" width="44.15" height="29.25" fill="#8b4726"/>
<rect x="1491.4" y="520.15" width="44.15" height="29.25" fill="#f8f8ff"/>
<rect x="1535.25" y="520.15" width="88" height="29.25" fill="#00ced1"/>
<rect x="1622.95" y="520.15" width="44.15" height="29.25" fill="#ff00ff"/>
<rect x="1666.8" y="520.15" width="44.15" height="29.25" fill="#00ced1"/>
<rect x="1710.65" y="520.15" width="88" height="29.25" fill="#f8f8ff"/>
<rect x="1798.35" y="520.15" width="44.15" height="29.25" fill="#8b4726"/>
<rect x="1842.2" y="520.15" width="44.2" height="29.25" fill="#f8f8ff"/>
</g>
<g stroke="#000" fill="none" stroke-width="1.85">
<line x1="1228.3" y1="60.1" x2="1228.3" y2="550.2" stroke-dasharray="8.2 4.1" stroke-dashoffset="-1"/>
<line x1="1272.15" y1="60.1" x2="1272.15" y2="550.2" stroke-dasharray="8.2 4.1" stroke-dashoffset="-1"/>
<line x1="1316" y1="60.1" x2="1316" y2="550.2" stroke-dasharray="8.2 4.1" stroke-dashoffset="-1"/>
<line x1="1359.85" y1="60.1" x2="1359.85" y2="550.2" stroke-width="2.9" stroke-dasharray="12.2 8.8" stroke-dashoffset="-1"/>
<line x1="1403.7" y1="60.1" x2="1403.7" y2="550.2" stroke-dasharray="8.2 4.1" stroke-dashoffset="-1"/>
<line x1="1447.55" y1="60.1" x2="1447.55" y2="550.2" stroke-dasharray="8.2 4.1" stroke-dashoffset="-1"/>
<line x1="1491.4" y1="60.1" x2="1491.4" y2="550.2" stroke-dasharray="8.2 4.1" stroke-dashoffset="-1"/>
<line x1="1535.25" y1="60.1" x2="1535.25" y2="550.2" stroke-width="2.9" stroke-dasharray="12.2 8.8" stroke-dashoffset="-1"/>
<line x1="1579.1" y1="60.1" x2="1579.1" y2="550.2" stroke-dasharray="8.2 4.1" stroke-dashoffset="-1"/>
<line x1="1622.95" y1="60.1" x2="1622.95" y2="550.2" stroke-dasharray="8.2 4.1" stroke-dashoffset="-1"/>
<line x1="1666.8" y1="60.1" x2="1666.8" y2="550.2" stroke-dasharray="8.2 4.1" stroke-dashoffset="-1"/>
<line x1="1710.65" y1="60.1" x2="1710.65" y2="550.2" stroke-width="2.9" stroke-dasharray="12.2 8.8" stroke-dashoffset="-1"/>
<line x1="1754.5" y1="60.1" x2="1754.5" y2="550.2" stroke-dasharray="8.2 4.1" stroke-dashoffset="-1"/>
<line x1="1798.35" y1="60.1" x2="1798.35" y2="550.2" stroke-dasharray="8.2 4.1" stroke-dashoffset="-1"/>
<line x1="1842.2" y1="60.1" x2="1842.2" y2="550.2" stroke-dasharray="8.2 4.1" stroke-dashoffset="-1"/>
<line x1="1186.1" y1="90.21" x2="1886.4" y2="90.21" stroke-dasharray="7.4 5.3" stroke-dashoffset="2.4"/>
<line x1="1186.1" y1="120.92" x2="1886.4" y2="120.92" stroke-dasharray="7.4 5.3" stroke-dashoffset="2.4"/>
<line x1="1186.1" y1="151.63" x2="1886.4" y2="151.63" stroke-dasharray="7.4 5.3" stroke-dashoffset="2.4"/>
<line x1="1186.1" y1="182.34" x2="1886.4" y2="182.34" stroke-width="2.9" stroke-dasharray="11.1 9.8" stroke-dashoffset="7.1"/>
<line x1="1186.1" y1="213.05" x2="1886.4" y2="213.05" stroke-dasharray="7.4 5.3" stroke-dashoffset="2.4"/>
<line x1="1186.1" y1="243.76" x2="1886.4" y2="243.76" stroke-dasharray="7.4 5.3" stroke-dashoffset="2.4"/>
<line x1="1186.1" y1="274.47" x2="1886.4" y2="274.47" stroke-dasharray="7.4 5.3" stroke-dashoffset="2.4"/>
<line x1="1186.1" y1="305.88" x2="1886.4" y2="305.88" stroke-width="2.9" stroke-dasharray="11.1 9.8" stroke-dashoffset="7.1"/>
<line x1="1186.1" y1="336.59" x2="1886.4" y2="336.59" stroke-dasharray="7.4 5.3" stroke-dashoffset="2.4"/>
<line x1="1186.1" y1="367.6" x2="1886.4" y2="367.6" stroke-dasharray="7.4 5.3" stroke-dashoffset="2.4"/>
<line x1="1186.1" y1="398.31" x2="1886.4" y2="398.31" stroke-dasharray="7.4 5.3" stroke-dashoffset="2.4"/>
<line x1="1186.1" y1="429.72" x2="1886.4" y2="429.72" stroke-width="2.9" stroke-dasharray="11.1 9.8" stroke-dashoffset="7.1"/>
<line x1="1186.1" y1="458.23" x2="1886.4" y2="458.23" stroke-dasharray="7.4 5.3" stroke-dashoffset="2.4"/>
<line x1="1186.1" y1="490.14" x2="1886.4" y2="490.14" stroke-dasharray="7.4 5.3" stroke-dashoffset="2.4"/>
<line x1="1186.1" y1="520.15" x2="1886.4" y2="520.15" stroke-dasharray="7.4 5.3" stroke-dashoffset="2.4"/>
</g>
<g font-size="29.6" text-anchor="end">
<text transform="translate(1178.2 84.2) scale(1 1.035)">AA</text>
<text transform="translate(1178.2 115.07) scale(1 1.035)">CA</text>
<text transform="translate(1178.2 145.94) scale(1 1.035)">GA</text>
<text transform="translate(1178.2 176.81) scale(1 1.035)">TA</text>
<text transform="translate(1178.2 207.68) scale(1 1.035)">AC</text>
<text transform="translate(1178.2 238.55) scale(1 1.035)">CC</text>
<text transform="translate(1178.2 269.42) scale(1 1.035)">GC</text>
<text transform="translate(1178.2 300.29) scale(1 1.035)">TC</text>
<text transform="translate(1178.2 331.16) scale(1 1.035)">AG</text>
<text transform="translate(1178.2 362.03) scale(1 1.035)">CG</text>
<text transform="translate(1178.2 392.9) scale(1 1.035)">GG</text>
<text transform="translate(1178.2 423.77) scale(1 1.035)">TG</text>
<text transform="translate(1178.2 454.64) scale(1 1.035)">AT</text>
<text transform="translate(1178.2 485.51) scale(1 1.035)">CT</text>
<text transform="translate(1178.2 516.38) scale(1 1.035)">GT</text>
<text transform="translate(1178.2 547.25) scale(1 1.035)">TT</text>
</g>
<g font-size="29.6" text-anchor="end">
<text transform="translate(1219 567.5) rotate(-45) scale(1 1.035)">AA</text>
<text transform="translate(1263.03 567.5) rotate(-45) scale(1 1.035)">AC</text>
<text transform="translate(1307.06 567.5) rotate(-45) scale(1 1.035)">AG</text>
<text transform="translate(1351.09 567.5) rotate(-45) scale(1 1.035)">AT</text>
<text transform="translate(1395.12 567.5) rotate(-45) scale(1 1.035)">CA</text>
<text transform="translate(1439.15 567.5) rotate(-45) scale(1 1.035)">CC</text>
<text transform="translate(1483.18 567.5) rotate(-45) scale(1 1.035)">CG</text>
<text transform="translate(1527.21 567.5) rotate(-45) scale(1 1.035)">CT</text>
<text transform="translate(1571.24 567.5) rotate(-45) scale(1 1.035)">GA</text>
<text transform="translate(1615.27 567.5) rotate(-45) scale(1 1.035)">GC</text>
<text transform="translate(1659.3 567.5) rotate(-45) scale(1 1.035)">GG</text>
<text transform="translate(1703.33 567.5) rotate(-45) scale(1 1.035)">GT</text>
<text transform="translate(1747.36 567.5) rotate(-45) scale(1 1.035)">TA</text>
<text transform="translate(1791.39 567.5) rotate(-45) scale(1 1.035)">TC</text>
<text transform="translate(1835.42 567.5) rotate(-45) scale(1 1.035)">TG</text>
<text transform="translate(1879.45 567.5) rotate(-45) scale(1 1.035)">TT</text>
</g>
<text font-size="34.9" x="1293.5" y="638.5">3rd and 4th<tspan dx="-2.4"> nucleotides</tspan><tspan dx="1"> of</tspan><tspan dx="0.5"> PAM</tspan></text>
<text font-size="35" text-anchor="middle" transform="translate(1112 309.6) rotate(-90)">1st and 2nd nucleotides<tspan dx="-1.6"> of</tspan><tspan dx="3.8"> PAM</tspan></text>
<rect x="1901.5" y="88.8" width="51.2" height="45.3" fill="#ff00ff"/>
<rect x="1901.5" y="133.8" width="51.2" height="47.3" fill="#0000ff"/>
<rect x="1901.5" y="180.8" width="51.2" height="47" fill="#458b00"/>
<rect x="1901.5" y="227.5" width="51.2" height="47.4" fill="#d8bfd8"/>
<rect x="1901.5" y="274.6" width="51.2" height="47.4" fill="#ffa54f"/>
<rect x="1901.5" y="321.7" width="51.2" height="47.7" fill="#00ced1"/>
<rect x="1901.5" y="369.1" width="51.2" height="47.5" fill="#ff4500"/>
<rect x="1901.5" y="416.3" width="51.2" height="47.2" fill="#8b4726"/>
<rect x="1901.5" y="463.2" width="51.2" height="49" fill="#eeee00"/>
<g font-size="30">
<text x="1959.1" y="118.5">SpCas9</text>
<text x="1959.1" y="165.15">VRQR variant</text>
<text x="1959.1" y="211.8">SpCas9-NG</text>
<text x="1959.1" y="258.45">SpCas9-NRRH</text>
<text x="1959.1" y="305.1">SpCas9-NRTH</text>
<text x="1959.1" y="351.75">SpCas9-NRCH</text>
<text x="1959.1" y="398.4">SpG</text>
<text x="1959.1" y="445.05">SpRY</text>
<text x="1959.1" y="491.7">Sc++</text>
</g>
<!-- panel b -->
<text font-size="55.5" font-weight="bold" transform="translate(0.5 729) scale(1 1)">b</text>
<g>
<rect x="178.43" y="765" width="44.08" height="29.92" fill="#b0b0b0"/>
<rect x="222.21" y="765" width="44.08" height="29.92" fill="#8a8a8a"/>
<rect x="265.99" y="765" width="44.08" height="29.92" fill="#c2c2c2"/>
<rect x="353.55" y="765" width="44.08" height="29.92" fill="#c0c0c0"/>
<rect x="397.33" y="765" width="87.86" height="29.92" fill="#a8a8a8"/>
<rect x="484.89" y="765" width="44.08" height="29.92" fill="#b2b2b2"/>
<rect x="528.67" y="765" width="87.86" height="29.92" fill="#969696"/>
<rect x="616.23" y="765" width="44.08" height="29.92" fill="#a2a2a2"/>
<rect x="660.01" y="765" width="44.08" height="29.92" fill="#b6b6b6"/>
<rect x="703.79" y="765" width="44.08" height="29.92" fill="#8e8e8e"/>
<rect x="747.57" y="765" width="44.08" height="29.92" fill="#a2a2a2"/>
<rect x="791.35" y="765" width="44.85" height="29.92" fill="#c0c0c0"/>
<rect x="135.2" y="794.62" width="43.53" height="31.12" fill="#acacac"/>
<rect x="178.43" y="794.62" width="44.08" height="31.12" fill="#989898"/>
<rect x="222.21" y="794.62" width="44.08" height="31.12" fill="#808080"/>
<rect x="265.99" y="794.62" width="44.08" height="31.12" fill="#a2a2a2"/>
<rect x="309.77" y="794.62" width="44.08" height="31.12" fill="#bababa"/>
<rect x="353.55" y="794.62" width="44.08" height="31.12" fill="#989898"/>
<rect x="397.33" y="794.62" width="44.08" height="31.12" fill="#a8a8a8"/>
<rect x="441.11" y="794.62" width="44.08" height="31.12" fill="#808080"/>
<rect x="484.89" y="794.62" width="44.08" height="31.12" fill="#989898"/>
<rect x="528.67" y="794.62" width="44.08" height="31.12" fill="#868686"/>
<rect x="572.45" y="794.62" width="44.08" height="31.12" fill="#a2a2a2"/>
<rect x="616.23" y="794.62" width="44.08" height="31.12" fill="#929292"/>
<rect x="660.01" y="794.62" width="44.08" height="31.12" fill="#888888"/>
<rect x="703.79" y="794.62" width="44.08" height="31.12" fill="#505050"/>
<rect x="747.57" y="794.62" width="44.08" height="31.12" fill="#949494"/>
<rect x="791.35" y="794.62" width="44.85" height="31.12" fill="#7c7c7c"/>
<rect x="135.2" y="825.44" width="43.53" height="31.12" fill="#989898"/>
<rect x="178.43" y="825.44" width="44.08" height="31.12" fill="#808080"/>
<rect x="222.21" y="825.44" width="44.08" height="31.12" fill="#686868"/>
<rect x="265.99" y="825.44" width="44.08" height="31.12" fill="#909090"/>
<rect x="309.77" y="825.44" width="44.08" height="31.12" fill="#b8b8b8"/>
<rect x="353.55" y="825.44" width="87.86" height="31.12" fill="#909090"/>
<rect x="441.11" y="825.44" width="44.08" height="31.12" fill="#808080"/>
<rect x="484.89" y="825.44" width="44.08" height="31.12" fill="#8a8a8a"/>
<rect x="528.67" y="825.44" width="44.08" height="31.12" fill="#727272"/>
<rect x="572.45" y="825.44" width="44.08" height="31.12" fill="#8a8a8a"/>
<rect x="616.23" y="825.44" width="44.08" height="31.12" fill="#7a7a7a"/>
<rect x="660.01" y="825.44" width="44.08" height="31.12" fill="#727272"/>
<rect x="703.79" y="825.44" width="44.08" height="31.12" fill="#525252"/>
<rect x="747.57" y="825.44" width="44.08" height="31.12" fill="#828282"/>
<rect x="791.35" y="825.44" width="44.85" height="31.12" fill="#6c6c6c"/>
<rect x="178.43" y="856.26" width="44.08" height="31.12" fill="#bcbcbc"/>
<rect x="222.21" y="856.26" width="44.08" height="31.12" fill="#909090"/>
<rect x="265.99" y="856.26" width="44.08" height="31.12" fill="#d0d0d0"/>
<rect x="353.55" y="856.26" width="44.08" height="31.12" fill="#c0c0c0"/>
<rect x="397.33" y="856.26" width="44.08" height="31.12" fill="#c8c8c8"/>
<rect x="441.11" y="856.26" width="44.08" height="31.12" fill="#9a9a9a"/>
<rect x="484.89" y="856.26" width="44.08" height="31.12" fill="#d2d2d2"/>
<rect x="528.67" y="856.26" width="87.86" height="31.12" fill="#b2b2b2"/>
<rect x="616.23" y="856.26" width="44.08" height="31.12" fill="#b0b0b0"/>
<rect x="660.01" y="856.26" width="44.08" height="31.12" fill="#a2a2a2"/>
<rect x="703.79" y="856.26" width="44.08" height="31.12" fill="#747474"/>
<rect x="747.57" y="856.26" width="44.08" height="31.12" fill="#c2c2c2"/>
<rect x="791.35" y="856.26" width="44.85" height="31.12" fill="#a4a4a4"/>
<rect x="178.43" y="887.08" width="44.08" height="31.12" fill="#d6d6d6"/>
<rect x="222.21" y="887.08" width="44.08" height="31.12" fill="#d0d0d0"/>
<rect x="484.89" y="887.08" width="44.08" height="31.12" fill="#c0c0c0"/>
<rect x="528.67" y="887.08" width="44.08" height="31.12" fill="#a6a6a6"/>
<rect x="572.45" y="887.08" width="44.08" height="31.12" fill="#8e8e8e"/>
<rect x="616.23" y="887.08" width="44.08" height="31.12" fill="#a4a4a4"/>
<rect x="747.57" y="887.08" width="44.08" height="31.12" fill="#d4d4d4"/>
<rect x="528.67" y="917.9" width="131.64" height="31.12" fill="#c8c8c8"/>
<rect x="222.21" y="948.72" width="44.08" height="31.12" fill="#c8c8c8"/>
<rect x="353.55" y="948.72" width="87.86" height="31.12" fill="#d0d0d0"/>
<rect x="441.11" y="948.72" width="44.08" height="31.12" fill="#c2c2c2"/>
<rect x="528.67" y="948.72" width="44.08" height="31.12" fill="#d4d4d4"/>
<rect x="572.45" y="948.72" width="44.08" height="31.12" fill="#d6d6d6"/>
<rect x="616.23" y="948.72" width="44.08" height="31.12" fill="#bcbcbc"/>
<rect x="747.57" y="948.72" width="44.08" height="31.12" fill="#d0d0d0"/>
<rect x="528.67" y="979.54" width="44.08" height="31.12" fill="#c8c8c8"/>
<rect x="572.45" y="979.54" width="44.08" height="31.12" fill="#c4c4c4"/>
<rect x="616.23" y="979.54" width="44.08" height="31.12" fill="#c8c8c8"/>
<rect x="135.2" y="1010.36" width="43.53" height="31.12" fill="#727272"/>
<rect x="178.43" y="1010.36" width="44.08" height="31.12" fill="#7c7c7c"/>
<rect x="222.21" y="1010.36" width="44.08" height="31.12" fill="#020202"/>
<rect x="265.99" y="1010.36" width="44.08" height="31.12" fill="#787878"/>
<rect x="309.77" y="1010.36" width="44.08" height="31.12" fill="#888888"/>
<rect x="353.55" y="1010.36" width="44.08" height="31.12" fill="#707070"/>
<rect x="397.33" y="1010.36" width="44.08" height="31.12" fill="#505050"/>
<rect x="441.11" y="1010.36" width="44.08" height="31.12" fill="#787878"/>
<rect x="484.89" y="1010.36" width="44.08" height="31.12" fill="#242424"/>
<rect x="528.67" y="1010.36" width="44.08" height="31.12" fill="#1c1c1c"/>
<rect x="572.45" y="1010.36" width="44.08" height="31.12" fill="#2c2c2c"/>
<rect x="616.23" y="1010.36" width="44.08" height="31.12" fill="#202020"/>
<rect x="660.01" y="1010.36" width="44.08" height="31.12" fill="#808080"/>
<rect x="703.79" y="1010.36" width="87.86" height="31.12" fill="#606060"/>
<rect x="791.35" y="1010.36" width="44.85" height="31.12" fill="#686868"/>
<rect x="135.2" y="1041.18" width="43.53" height="31.12" fill="#767676"/>
<rect x="178.43" y="1041.18" width="44.08" height="31.12" fill="#707070"/>
<rect x="222.21" y="1041.18" width="44.08" height="31.12" fill="#020202"/>
<rect x="265.99" y="1041.18" width="44.08" height="31.12" fill="#707070"/>
<rect x="309.77" y="1041.18" width="44.08" height="31.12" fill="#787878"/>
<rect x="353.55" y="1041.18" width="44.08" height="31.12" fill="#606060"/>
<rect x="397.33" y="1041.18" width="87.86" height="31.12" fill="#585858"/>
<rect x="484.89" y="1041.18" width="44.08" height="31.12" fill="#1c1c1c"/>
<rect x="528.67" y="1041.18" width="44.08" height="31.12" fill="#1a1a1a"/>
<rect x="572.45" y="1041.18" width="44.08" height="31.12" fill="#242424"/>
<rect x="616.23" y="1041.18" width="44.08" height="31.12" fill="#1a1a1a"/>
<rect x="660.01" y="1041.18" width="44.08" height="31.12" fill="#686868"/>
<rect x="703.79" y="1041.18" width="44.08" height="31.12" fill="#404040"/>
<rect x="747.57" y="1041.18" width="44.08" height="31.12" fill="#606060"/>
<rect x="791.35" y="1041.18" width="44.85" height="31.12" fill="#404040"/>
<rect x="135.2" y="1072" width="43.53" height="31.12" fill="#767676"/>
<rect x="178.43" y="1072" width="44.08" height="31.12" fill="#686868"/>
<rect x="222.21" y="1072" width="44.08" height="31.12" fill="#020202"/>
<rect x="265.99" y="1072" width="44.08" height="31.12" fill="#686868"/>
<rect x="309.77" y="1072" width="44.08" height="31.12" fill="#787878"/>
<rect x="353.55" y="1072" width="44.08" height="31.12" fill="#606060"/>
<rect x="397.33" y="1072" width="44.08" height="31.12" fill="#585858"/>
<rect x="441.11" y="1072" width="44.08" height="31.12" fill="#5c5c5c"/>
<rect x="484.89" y="1072" width="44.08" height="31.12" fill="#1c1c1c"/>
<rect x="528.67" y="1072" width="44.08" height="31.12" fill="#1a1a1a"/>
<rect x="572.45" y="1072" width="44.08" height="31.12" fill="#1e1e1e"/>
<rect x="616.23" y="1072" width="44.08" height="31.12" fill="#1c1c1c"/>
<rect x="660.01" y="1072" width="44.08" height="31.12" fill="#686868"/>
<rect x="703.79" y="1072" width="44.08" height="31.12" fill="#444444"/>
<rect x="747.57" y="1072" width="44.08" height="31.12" fill="#5c5c5c"/>
<rect x="791.35" y="1072" width="44.85" height="31.12" fill="#404040"/>
<rect x="135.2" y="1102.82" width="43.53" height="31.12" fill="#707070"/>
<rect x="178.43" y="1102.82" width="44.08" height="31.12" fill="#787878"/>
<rect x="222.21" y="1102.82" width="44.08" height="31.12" fill="#020202"/>
<rect x="265.99" y="1102.82" width="44.08" height="31.12" fill="#707070"/>
<rect x="309.77" y="1102.82" width="44.08" height="31.12" fill="#888888"/>
<rect x="353.55" y="1102.82" width="44.08" height="31.12" fill="#6a6a6a"/>
<rect x="397.33" y="1102.82" width="44.08" height="31.12" fill="#505050"/>
<rect x="441.11" y="1102.82" width="44.08" height="31.12" fill="#686868"/>
<rect x="484.89" y="1102.82" width="44.08" height="31.12" fill="#282828"/>
<rect x="528.67" y="1102.82" width="44.08" height="31.12" fill="#202020"/>
<rect x="572.45" y="1102.82" width="44.08" height="31.12" fill="#303030"/>
<rect x="616.23" y="1102.82" width="44.08" height="31.12" fill="#242424"/>
<rect x="660.01" y="1102.82" width="44.08" height="31.12" fill="#787878"/>
<rect x="703.79" y="1102.82" width="44.08" height="31.12" fill="#505050"/>
<rect x="747.57" y="1102.82" width="44.08" height="31.12" fill="#585858"/>
<rect x="791.35" y="1102.82" width="44.85" height="31.12" fill="#505050"/>
<rect x="222.21" y="1133.64" width="44.08" height="31.12" fill="#d0d0d0"/>
<rect x="484.89" y="1133.64" width="44.08" height="31.12" fill="#c8c8c8"/>
<rect x="528.67" y="1133.64" width="44.08" height="31.12" fill="#b6b6b6"/>
<rect x="572.45" y="1133.64" width="44.08" height="31.12" fill="#989898"/>
<rect x="616.23" y="1133.64" width="44.08" height="31.12" fill="#b6b6b6"/>
<rect x="178.43" y="1164.46" width="44.08" height="31.12" fill="#d4d4d4"/>
<rect x="222.21" y="1164.46" width="44.08" height="31.12" fill="#cacaca"/>
<rect x="528.67" y="1164.46" width="44.08" height="31.12" fill="#c4c4c4"/>
<rect x="572.45" y="1164.46" width="44.08" height="31.12" fill="#d2d2d2"/>
<rect x="616.23" y="1164.46" width="44.08" height="31.12" fill="#cecece"/>
<rect x="703.79" y="1164.46" width="44.08" height="31.12" fill="#d4d4d4"/>
<rect x="178.43" y="1195.28" width="44.08" height="31.12" fill="#bebebe"/>
<rect x="222.21" y="1195.28" width="44.08" height="31.12" fill="#a8a8a8"/>
<rect x="265.99" y="1195.28" width="44.08" height="31.12" fill="#cecece"/>
<rect x="484.89" y="1195.28" width="44.08" height="31.12" fill="#d2d2d2"/>
<rect x="528.67" y="1195.28" width="87.86" height="31.12" fill="#a8a8a8"/>
<rect x="616.23" y="1195.28" width="44.08" height="31.12" fill="#b8b8b8"/>
<rect x="703.79" y="1195.28" width="44.08" height="31.12" fill="#d0d0d0"/>
<rect x="747.57" y="1195.28" width="44.08" height="31.12" fill="#bebebe"/>
<rect x="528.67" y="1226.1" width="87.86" height="26.7" fill="#d2d2d2"/>
</g>
<g stroke="#000" fill="none" stroke-width="1.9">
<line x1="178.43" y1="765" x2="178.43" y2="1252.3" stroke-dasharray="8.2 4.1" stroke-dashoffset="-1"/>
<line x1="222.21" y1="765" x2="222.21" y2="1252.3" stroke-dasharray="8.2 4.1" stroke-dashoffset="-1"/>
<line x1="265.99" y1="765" x2="265.99" y2="1252.3" stroke-dasharray="8.2 4.1" stroke-dashoffset="-1"/>
<line x1="309.77" y1="765" x2="309.77" y2="1252.3" stroke-width="3" stroke-dasharray="12.2 8.8" stroke-dashoffset="-1"/>
<line x1="353.55" y1="765" x2="353.55" y2="1252.3" stroke-dasharray="8.2 4.1" stroke-dashoffset="-1"/>
<line x1="397.33" y1="765" x2="397.33" y2="1252.3" stroke-dasharray="8.2 4.1" stroke-dashoffset="-1"/>
<line x1="441.11" y1="765" x2="441.11" y2="1252.3" stroke-dasharray="8.2 4.1" stroke-dashoffset="-1"/>
<line x1="484.89" y1="765" x2="484.89" y2="1252.3" stroke-width="3" stroke-dasharray="12.2 8.8" stroke-dashoffset="-1"/>
<line x1="528.67" y1="765" x2="528.67" y2="1252.3" stroke-dasharray="8.2 4.1" stroke-dashoffset="-1"/>
<line x1="572.45" y1="765" x2="572.45" y2="1252.3" stroke-dasharray="8.2 4.1" stroke-dashoffset="-1"/>
<line x1="616.23" y1="765" x2="616.23" y2="1252.3" stroke-dasharray="8.2 4.1" stroke-dashoffset="-1"/>
<line x1="660.01" y1="765" x2="660.01" y2="1252.3" stroke-width="3" stroke-dasharray="12.2 8.8" stroke-dashoffset="-1"/>
<line x1="703.79" y1="765" x2="703.79" y2="1252.3" stroke-dasharray="8.2 4.1" stroke-dashoffset="-1"/>
<line x1="747.57" y1="765" x2="747.57" y2="1252.3" stroke-dasharray="8.2 4.1" stroke-dashoffset="-1"/>
<line x1="791.35" y1="765" x2="791.35" y2="1252.3" stroke-dasharray="8.2 4.1" stroke-dashoffset="-1"/>
<line x1="135.2" y1="794.62" x2="836.2" y2="794.62" stroke-dasharray="7.4 5.3" stroke-dashoffset="2.4"/>
<line x1="135.2" y1="825.44" x2="836.2" y2="825.44" stroke-dasharray="7.4 5.3" stroke-dashoffset="2.4"/>
<line x1="135.2" y1="856.26" x2="836.2" y2="856.26" stroke-dasharray="7.4 5.3" stroke-dashoffset="2.4"/>
<line x1="135.2" y1="887.08" x2="836.2" y2="887.08" stroke-width="3" stroke-dasharray="11.1 9.8" stroke-dashoffset="7.1"/>
<line x1="135.2" y1="917.9" x2="836.2" y2="917.9" stroke-dasharray="7.4 5.3" stroke-dashoffset="2.4"/>
<line x1="135.2" y1="948.72" x2="836.2" y2="948.72" stroke-dasharray="7.4 5.3" stroke-dashoffset="2.4"/>
<line x1="135.2" y1="979.54" x2="836.2" y2="979.54" stroke-dasharray="7.4 5.3" stroke-dashoffset="2.4"/>
<line x1="135.2" y1="1010.36" x2="836.2" y2="1010.36" stroke-width="3" stroke-dasharray="11.1 9.8" stroke-dashoffset="7.1"/>
<line x1="135.2" y1="1041.18" x2="836.2" y2="1041.18" stroke-dasharray="7.4 5.3" stroke-dashoffset="2.4"/>
<line x1="135.2" y1="1072" x2="836.2" y2="1072" stroke-dasharray="7.4 5.3" stroke-dashoffset="2.4"/>
<line x1="135.2" y1="1102.82" x2="836.2" y2="1102.82" stroke-dasharray="7.4 5.3" stroke-dashoffset="2.4"/>
<line x1="135.2" y1="1133.64" x2="836.2" y2="1133.64" stroke-width="3" stroke-dasharray="11.1 9.8" stroke-dashoffset="7.1"/>
<line x1="135.2" y1="1164.46" x2="836.2" y2="1164.46" stroke-dasharray="7.4 5.3" stroke-dashoffset="2.4"/>
<line x1="135.2" y1="1195.28" x2="836.2" y2="1195.28" stroke-dasharray="7.4 5.3" stroke-dashoffset="2.4"/>
<line x1="135.2" y1="1226.1" x2="836.2" y2="1226.1" stroke-dasharray="7.4 5.3" stroke-dashoffset="2.4"/>
</g>
<g font-size="29.6" text-anchor="end">
<text transform="translate(128.6 788.2) scale(1 1.035)">AA</text>
<text transform="translate(128.6 819.07) scale(1 1.035)">CA</text>
<text transform="translate(128.6 849.94) scale(1 1.035)">GA</text>
<text transform="translate(128.6 880.81) scale(1 1.035)">TA</text>
<text transform="translate(128.6 911.68) scale(1 1.035)">AC</text>
<text transform="translate(128.6 942.55) scale(1 1.035)">CC</text>
<text transform="translate(128.6 973.42) scale(1 1.035)">GC</text>
<text transform="translate(128.6 1004.29) scale(1 1.035)">TC</text>
<text transform="translate(128.6 1035.16) scale(1 1.035)">AG</text>
<text transform="translate(128.6 1066.03) scale(1 1.035)">CG</text>
<text transform="translate(128.6 1096.9) scale(1 1.035)">GG</text>
<text transform="translate(128.6 1127.77) scale(1 1.035)">TG</text>
<text transform="translate(128.6 1158.64) scale(1 1.035)">AT</text>
<text transform="translate(128.6 1189.51) scale(1 1.035)">CT</text>
<text transform="translate(128.6 1220.38) scale(1 1.035)">GT</text>
<text transform="translate(128.6 1251.25) scale(1 1.035)">TT</text>
</g>
<g font-size="29.6" text-anchor="end">
<text transform="translate(168.4 1271) rotate(-45) scale(1 1.035)">AA</text>
<text transform="translate(212.45 1271) rotate(-45) scale(1 1.035)">AC</text>
<text transform="translate(256.5 1271) rotate(-45) scale(1 1.035)">AG</text>
<text transform="translate(300.55 1271) rotate(-45) scale(1 1.035)">AT</text>
<text transform="translate(344.6 1271) rotate(-45) scale(1 1.035)">CA</text>
<text transform="translate(388.65 1271) rotate(-45) scale(1 1.035)">CC</text>
<text transform="translate(432.7 1271) rotate(-45) scale(1 1.035)">CG</text>
<text transform="translate(476.75 1271) rotate(-45) scale(1 1.035)">CT</text>
<text transform="translate(520.8 1271) rotate(-45) scale(1 1.035)">GA</text>
<text transform="translate(564.85 1271) rotate(-45) scale(1 1.035)">GC</text>
<text transform="translate(608.9 1271) rotate(-45) scale(1 1.035)">GG</text>
<text transform="translate(652.95 1271) rotate(-45) scale(1 1.035)">GT</text>
<text transform="translate(697 1271) rotate(-45) scale(1 1.035)">TA</text>
<text transform="translate(741.05 1271) rotate(-45) scale(1 1.035)">TC</text>
<text transform="translate(785.1 1271) rotate(-45) scale(1 1.035)">TG</text>
<text transform="translate(829.15 1271) rotate(-45) scale(1 1.035)">TT</text>
</g>
<text font-size="34.9" x="243.5" y="1342.7">3rd and 4th<tspan dx="-2.4"> nucleotides</tspan><tspan dx="1"> of</tspan><tspan dx="0.5"> PAM</tspan></text>
<text font-size="35" text-anchor="middle" transform="translate(62 1005.1) rotate(-90)">1st and 2nd nucleotides<tspan dx="-1.6"> of</tspan><tspan dx="3.8"> PAM</tspan></text>
<defs><linearGradient id="cbb" x1="0" y1="0" x2="0" y2="1"><stop offset="0" stop-color="#000"/><stop offset="1" stop-color="#fff"/></linearGradient></defs>
<rect x="847.5" y="889" width="31" height="235.5" fill="url(#cbb)" stroke="#8c8c8c" stroke-width="1.6"/>
<g font-size="35.3" text-anchor="start">
<line x1="877.5" y1="1124.5" x2="880.5" y2="1124.5" stroke="#555" stroke-width="1.3"/>
<text transform="translate(885.5 1138.7) scale(1 1.035)">0</text>
<line x1="877.5" y1="1058.3" x2="880.5" y2="1058.3" stroke="#555" stroke-width="1.3"/>
<text transform="translate(885.5 1072.5) scale(1 1.035)">20</text>
<line x1="877.5" y1="992.1" x2="880.5" y2="992.1" stroke="#555" stroke-width="1.3"/>
<text transform="translate(885.5 1006.3) scale(1 1.035)">40</text>
<line x1="877.5" y1="925.9" x2="880.5" y2="925.9" stroke="#555" stroke-width="1.3"/>
<text transform="translate(885.5 940.1) scale(1 1.035)">60</text>
</g>
<text font-size="35" text-anchor="middle" transform="translate(970 998.6) rotate(-90)">Average indel frequencies<tspan dx="2.7"> (%)</tspan></text>
<g>
<rect x="1185.3" y="755.1" width="40.43" height="31.19" fill="#f8f8ff"/>
<rect x="1225.43" y="755.1" width="44.33" height="31.19" fill="#d8bfd8"/>
<rect x="1269.46" y="755.1" width="44.33" height="31.19" fill="#0000ff"/>
<rect x="1313.49" y="755.1" width="44.33" height="31.19" fill="#d8bfd8"/>
<rect x="1357.52" y="755.1" width="44.33" height="31.19" fill="#f8f8ff"/>
<rect x="1401.55" y="755.1" width="44.33" height="31.19" fill="#00ced1"/>
<rect x="1445.58" y="755.1" width="44.33" height="31.19" fill="#ff4500"/>
<rect x="1489.61" y="755.1" width="44.33" height="31.19" fill="#00ced1"/>
<rect x="1533.64" y="755.1" width="88.36" height="31.19" fill="#d8bfd8"/>
<rect x="1621.7" y="755.1" width="44.33" height="31.19" fill="#ff00ff"/>
<rect x="1665.73" y="755.1" width="44.33" height="31.19" fill="#d8bfd8"/>
<rect x="1709.76" y="755.1" width="88.36" height="31.19" fill="#ffa54f"/>
<rect x="1797.82" y="755.1" width="44.33" height="31.19" fill="#458b00"/>
<rect x="1841.85" y="755.1" width="44.15" height="31.19" fill="#ffa54f"/>
<rect x="1185.3" y="785.99" width="84.46" height="31.09" fill="#d8bfd8"/>
<rect x="1269.46" y="785.99" width="44.33" height="31.09" fill="#0000ff"/>
<rect x="1313.49" y="785.99" width="44.33" height="31.09" fill="#d8bfd8"/>
<rect x="1357.52" y="785.99" width="88.36" height="31.09" fill="#00ced1"/>
<rect x="1445.58" y="785.99" width="44.33" height="31.09" fill="#ff4500"/>
<rect x="1489.61" y="785.99" width="44.33" height="31.09" fill="#00ced1"/>
<rect x="1533.64" y="785.99" width="88.36" height="31.09" fill="#d8bfd8"/>
<rect x="1621.7" y="785.99" width="44.33" height="31.09" fill="#458b00"/>
<rect x="1665.73" y="785.99" width="44.33" height="31.09" fill="#d8bfd8"/>
<rect x="1709.76" y="785.99" width="88.36" height="31.09" fill="#ffa54f"/>
<rect x="1797.82" y="785.99" width="44.33" height="31.09" fill="#458b00"/>
<rect x="1841.85" y="785.99" width="44.15" height="31.09" fill="#ffa54f"/>
<rect x="1185.3" y="816.78" width="84.46" height="31.09" fill="#d8bfd8"/>
<rect x="1269.46" y="816.78" width="44.33" height="31.09" fill="#0000ff"/>
<rect x="1313.49" y="816.78" width="44.33" height="31.09" fill="#d8bfd8"/>
<rect x="1357.52" y="816.78" width="88.36" height="31.09" fill="#00ced1"/>
<rect x="1445.58" y="816.78" width="44.33" height="31.09" fill="#ff4500"/>
<rect x="1489.61" y="816.78" width="44.33" height="31.09" fill="#00ced1"/>
<rect x="1533.64" y="816.78" width="88.36" height="31.09" fill="#d8bfd8"/>
<rect x="1621.7" y="816.78" width="44.33" height="31.09" fill="#458b00"/>
<rect x="1665.73" y="816.78" width="44.33" height="31.09" fill="#d8bfd8"/>
<rect x="1709.76" y="816.78" width="88.36" height="31.09" fill="#ffa54f"/>
<rect x="1797.82" y="816.78" width="44.33" height="31.09" fill="#458b00"/>
<rect x="1841.85" y="816.78" width="44.15" height="31.09" fill="#ffa54f"/>
<rect x="1185.3" y="847.57" width="40.43" height="31.09" fill="#f8f8ff"/>
<rect x="1225.43" y="847.57" width="44.33" height="31.09" fill="#d8bfd8"/>
<rect x="1269.46" y="847.57" width="44.33" height="31.09" fill="#0000ff"/>
<rect x="1313.49" y="847.57" width="44.33" height="31.09" fill="#d8bfd8"/>
<rect x="1357.52" y="847.57" width="44.33" height="31.09" fill="#f8f8ff"/>
<rect x="1401.55" y="847.57" width="44.33" height="31.09" fill="#00ced1"/>
<rect x="1445.58" y="847.57" width="44.33" height="31.09" fill="#8b4726"/>
<rect x="1489.61" y="847.57" width="44.33" height="31.09" fill="#00ced1"/>
<rect x="1533.64" y="847.57" width="44.33" height="31.09" fill="#ff00ff"/>
<rect x="1577.67" y="847.57" width="44.33" height="31.09" fill="#d8bfd8"/>
<rect x="1621.7" y="847.57" width="44.33" height="31.09" fill="#ff00ff"/>
<rect x="1665.73" y="847.57" width="44.33" height="31.09" fill="#eeee00"/>
<rect x="1709.76" y="847.57" width="88.36" height="31.09" fill="#ffa54f"/>
<rect x="1797.82" y="847.57" width="44.33" height="31.09" fill="#458b00"/>
<rect x="1841.85" y="847.57" width="44.15" height="31.09" fill="#ffa54f"/>
<rect x="1185.3" y="878.36" width="40.43" height="31.09" fill="#f8f8ff"/>
<rect x="1225.43" y="878.36" width="44.33" height="31.09" fill="#00ced1"/>
<rect x="1269.46" y="878.36" width="44.33" height="31.09" fill="#8b4726"/>
<rect x="1313.49" y="878.36" width="220.45" height="31.09" fill="#f8f8ff"/>
<rect x="1533.64" y="878.36" width="88.36" height="31.09" fill="#00ced1"/>
<rect x="1621.7" y="878.36" width="44.33" height="31.09" fill="#ff00ff"/>
<rect x="1665.73" y="878.36" width="44.33" height="31.09" fill="#00ced1"/>
<rect x="1709.76" y="878.36" width="88.36" height="31.09" fill="#f8f8ff"/>
<rect x="1797.82" y="878.36" width="44.33" height="31.09" fill="#8b4726"/>
<rect x="1841.85" y="878.36" width="44.15" height="31.09" fill="#f8f8ff"/>
<rect x="1185.3" y="909.15" width="392.67" height="31.09" fill="#f8f8ff"/>
<rect x="1577.67" y="909.15" width="44.33" height="31.09" fill="#00ced1"/>
<rect x="1621.7" y="909.15" width="44.33" height="31.09" fill="#ff00ff"/>
<rect x="1665.73" y="909.15" width="44.33" height="31.09" fill="#00ced1"/>
<rect x="1709.76" y="909.15" width="176.24" height="31.09" fill="#f8f8ff"/>
<rect x="1185.3" y="939.94" width="84.46" height="31.09" fill="#f8f8ff"/>
<rect x="1269.46" y="939.94" width="44.33" height="31.09" fill="#8b4726"/>
<rect x="1313.49" y="939.94" width="88.36" height="31.09" fill="#f8f8ff"/>
<rect x="1401.55" y="939.94" width="44.33" height="31.09" fill="#00ced1"/>
<rect x="1445.58" y="939.94" width="44.33" height="31.09" fill="#8b4726"/>
<rect x="1489.61" y="939.94" width="44.33" height="31.09" fill="#00ced1"/>
<rect x="1533.64" y="939.94" width="44.33" height="31.09" fill="#f8f8ff"/>
<rect x="1577.67" y="939.94" width="44.33" height="31.09" fill="#00ced1"/>
<rect x="1621.7" y="939.94" width="44.33" height="31.09" fill="#8b4726"/>
<rect x="1665.73" y="939.94" width="44.33" height="31.09" fill="#eeee00"/>
<rect x="1709.76" y="939.94" width="88.36" height="31.09" fill="#f8f8ff"/>
<rect x="1797.82" y="939.94" width="44.33" height="31.09" fill="#8b4726"/>
<rect x="1841.85" y="939.94" width="44.15" height="31.09" fill="#f8f8ff"/>
<rect x="1185.3" y="970.73" width="392.67" height="32.09" fill="#f8f8ff"/>
<rect x="1577.67" y="970.73" width="44.33" height="32.09" fill="#00ced1"/>
<rect x="1621.7" y="970.73" width="44.33" height="32.09" fill="#ff00ff"/>
<rect x="1665.73" y="970.73" width="44.33" height="32.09" fill="#00ced1"/>
<rect x="1709.76" y="970.73" width="176.24" height="32.09" fill="#f8f8ff"/>
<rect x="1185.3" y="1002.52" width="40.43" height="31.79" fill="#0000ff"/>
<rect x="1225.43" y="1002.52" width="44.33" height="31.79" fill="#00ced1"/>
<rect x="1269.46" y="1002.52" width="88.36" height="31.79" fill="#0000ff"/>
<rect x="1357.52" y="1002.52" width="44.33" height="31.79" fill="#ff4500"/>
<rect x="1401.55" y="1002.52" width="44.33" height="31.79" fill="#00ced1"/>
<rect x="1445.58" y="1002.52" width="44.33" height="31.79" fill="#0000ff"/>
<rect x="1489.61" y="1002.52" width="44.33" height="31.79" fill="#00ced1"/>
<rect x="1533.64" y="1002.52" width="176.42" height="31.79" fill="#ff00ff"/>
<rect x="1709.76" y="1002.52" width="88.36" height="31.79" fill="#ffa54f"/>
<rect x="1797.82" y="1002.52" width="44.33" height="31.79" fill="#ff4500"/>
<rect x="1841.85" y="1002.52" width="44.15" height="31.79" fill="#ffa54f"/>
<rect x="1185.3" y="1034.01" width="40.43" height="31.69" fill="#0000ff"/>
<rect x="1225.43" y="1034.01" width="44.33" height="31.69" fill="#00ced1"/>
<rect x="1269.46" y="1034.01" width="88.36" height="31.69" fill="#0000ff"/>
<rect x="1357.52" y="1034.01" width="88.36" height="31.69" fill="#00ced1"/>
<rect x="1445.58" y="1034.01" width="44.33" height="31.69" fill="#0000ff"/>
<rect x="1489.61" y="1034.01" width="44.33" height="31.69" fill="#00ced1"/>
<rect x="1533.64" y="1034.01" width="176.42" height="31.69" fill="#ff00ff"/>
<rect x="1709.76" y="1034.01" width="88.36" height="31.69" fill="#ffa54f"/>
<rect x="1797.82" y="1034.01" width="44.33" height="31.69" fill="#458b00"/>
<rect x="1841.85" y="1034.01" width="44.15" height="31.69" fill="#ffa54f"/>
<rect x="1185.3" y="1065.4" width="40.43" height="29.79" fill="#0000ff"/>
<rect x="1225.43" y="1065.4" width="44.33" height="29.79" fill="#00ced1"/>
<rect x="1269.46" y="1065.4" width="44.33" height="29.79" fill="#0000ff"/>
<rect x="1313.49" y="1065.4" width="132.39" height="29.79" fill="#00ced1"/>
<rect x="1445.58" y="1065.4" width="44.33" height="29.79" fill="#0000ff"/>
<rect x="1489.61" y="1065.4" width="44.33" height="29.79" fill="#00ced1"/>
<rect x="1533.64" y="1065.4" width="176.42" height="29.79" fill="#ff00ff"/>
<rect x="1709.76" y="1065.4" width="88.36" height="29.79" fill="#ffa54f"/>
<rect x="1797.82" y="1065.4" width="44.33" height="29.79" fill="#458b00"/>
<rect x="1841.85" y="1065.4" width="44.15" height="29.79" fill="#ffa54f"/>
<rect x="1185.3" y="1094.89" width="40.43" height="31.79" fill="#0000ff"/>
<rect x="1225.43" y="1094.89" width="44.33" height="31.79" fill="#00ced1"/>
<rect x="1269.46" y="1094.89" width="88.36" height="31.79" fill="#0000ff"/>
<rect x="1357.52" y="1094.89" width="44.33" height="31.79" fill="#ff4500"/>
<rect x="1401.55" y="1094.89" width="44.33" height="31.79" fill="#00ced1"/>
<rect x="1445.58" y="1094.89" width="44.33" height="31.79" fill="#0000ff"/>
<rect x="1489.61" y="1094.89" width="44.33" height="31.79" fill="#00ced1"/>
<rect x="1533.64" y="1094.89" width="176.42" height="31.79" fill="#ff00ff"/>
<rect x="1709.76" y="1094.89" width="88.36" height="31.79" fill="#ffa54f"/>
<rect x="1797.82" y="1094.89" width="44.33" height="31.79" fill="#458b00"/>
<rect x="1841.85" y="1094.89" width="44.15" height="31.79" fill="#ffa54f"/>
<rect x="1185.3" y="1126.38" width="84.46" height="29.39" fill="#f8f8ff"/>
<rect x="1269.46" y="1126.38" width="44.33" height="29.39" fill="#0000ff"/>
<rect x="1313.49" y="1126.38" width="220.45" height="29.39" fill="#f8f8ff"/>
<rect x="1533.64" y="1126.38" width="88.36" height="29.39" fill="#00ced1"/>
<rect x="1621.7" y="1126.38" width="44.33" height="29.39" fill="#ff00ff"/>
<rect x="1665.73" y="1126.38" width="44.33" height="29.39" fill="#00ced1"/>
<rect x="1709.76" y="1126.38" width="176.24" height="29.39" fill="#f8f8ff"/>
<rect x="1185.3" y="1155.47" width="40.43" height="33.39" fill="#f8f8ff"/>
<rect x="1225.43" y="1155.47" width="44.33" height="33.39" fill="#d8bfd8"/>
<rect x="1269.46" y="1155.47" width="44.33" height="33.39" fill="#0000ff"/>
<rect x="1313.49" y="1155.47" width="264.48" height="33.39" fill="#f8f8ff"/>
<rect x="1577.67" y="1155.47" width="44.33" height="33.39" fill="#d8bfd8"/>
<rect x="1621.7" y="1155.47" width="44.33" height="33.39" fill="#ff00ff"/>
<rect x="1665.73" y="1155.47" width="44.33" height="33.39" fill="#00ced1"/>
<rect x="1709.76" y="1155.47" width="44.33" height="33.39" fill="#f8f8ff"/>
<rect x="1753.79" y="1155.47" width="44.33" height="33.39" fill="#d8bfd8"/>
<rect x="1797.82" y="1155.47" width="88.18" height="33.39" fill="#f8f8ff"/>
<rect x="1185.3" y="1188.56" width="40.43" height="30.09" fill="#f8f8ff"/>
<rect x="1225.43" y="1188.56" width="44.33" height="30.09" fill="#d8bfd8"/>
<rect x="1269.46" y="1188.56" width="44.33" height="30.09" fill="#0000ff"/>
<rect x="1313.49" y="1188.56" width="44.33" height="30.09" fill="#d8bfd8"/>
<rect x="1357.52" y="1188.56" width="176.42" height="30.09" fill="#f8f8ff"/>
<rect x="1533.64" y="1188.56" width="88.36" height="30.09" fill="#d8bfd8"/>
<rect x="1621.7" y="1188.56" width="44.33" height="30.09" fill="#458b00"/>
<rect x="1665.73" y="1188.56" width="44.33" height="30.09" fill="#d8bfd8"/>
<rect x="1709.76" y="1188.56" width="44.33" height="30.09" fill="#f8f8ff"/>
<rect x="1753.79" y="1188.56" width="44.33" height="30.09" fill="#d8bfd8"/>
<rect x="1797.82" y="1188.56" width="44.33" height="30.09" fill="#458b00"/>
<rect x="1841.85" y="1188.56" width="44.15" height="30.09" fill="#f8f8ff"/>
<rect x="1185.3" y="1218.35" width="392.67" height="29.45" fill="#f8f8ff"/>
<rect x="1577.67" y="1218.35" width="44.33" height="29.45" fill="#00ced1"/>
<rect x="1621.7" y="1218.35" width="44.33" height="29.45" fill="#ff00ff"/>
<rect x="1665.73" y="1218.35" width="220.27" height="29.45" fill="#f8f8ff"/>
</g>
<g stroke="#000" fill="none" stroke-width="1.85">
<line x1="1226.43" y1="755.1" x2="1226.43" y2="1247.1" stroke-dasharray="8.2 4.1" stroke-dashoffset="-1"/>
<line x1="1270.46" y1="755.1" x2="1270.46" y2="1247.1" stroke-dasharray="8.2 4.1" stroke-dashoffset="-1"/>
<line x1="1314.49" y1="755.1" x2="1314.49" y2="1247.1" stroke-dasharray="8.2 4.1" stroke-dashoffset="-1"/>
<line x1="1359.02" y1="755.1" x2="1359.02" y2="1247.1" stroke-width="2.9" stroke-dasharray="12.2 8.8" stroke-dashoffset="-1"/>
<line x1="1402.55" y1="755.1" x2="1402.55" y2="1247.1" stroke-dasharray="8.2 4.1" stroke-dashoffset="-1"/>
<line x1="1446.58" y1="755.1" x2="1446.58" y2="1247.1" stroke-dasharray="8.2 4.1" stroke-dashoffset="-1"/>
<line x1="1490.61" y1="755.1" x2="1490.61" y2="1247.1" stroke-dasharray="8.2 4.1" stroke-dashoffset="-1"/>
<line x1="1535.14" y1="755.1" x2="1535.14" y2="1247.1" stroke-width="2.9" stroke-dasharray="12.2 8.8" stroke-dashoffset="-1"/>
<line x1="1578.67" y1="755.1" x2="1578.67" y2="1247.1" stroke-dasharray="8.2 4.1" stroke-dashoffset="-1"/>
<line x1="1622.7" y1="755.1" x2="1622.7" y2="1247.1" stroke-dasharray="8.2 4.1" stroke-dashoffset="-1"/>
<line x1="1666.73" y1="755.1" x2="1666.73" y2="1247.1" stroke-dasharray="8.2 4.1" stroke-dashoffset="-1"/>
<line x1="1711.26" y1="755.1" x2="1711.26" y2="1247.1" stroke-width="2.9" stroke-dasharray="12.2 8.8" stroke-dashoffset="-1"/>
<line x1="1754.79" y1="755.1" x2="1754.79" y2="1247.1" stroke-dasharray="8.2 4.1" stroke-dashoffset="-1"/>
<line x1="1798.82" y1="755.1" x2="1798.82" y2="1247.1" stroke-dasharray="8.2 4.1" stroke-dashoffset="-1"/>
<line x1="1842.85" y1="755.1" x2="1842.85" y2="1247.1" stroke-dasharray="8.2 4.1" stroke-dashoffset="-1"/>
<line x1="1185.3" y1="785.99" x2="1886" y2="785.99" stroke-dasharray="7.4 5.3" stroke-dashoffset="2.4"/>
<line x1="1185.3" y1="816.78" x2="1886" y2="816.78" stroke-dasharray="7.4 5.3" stroke-dashoffset="2.4"/>
<line x1="1185.3" y1="847.57" x2="1886" y2="847.57" stroke-dasharray="7.4 5.3" stroke-dashoffset="2.4"/>
<line x1="1185.3" y1="878.36" x2="1886" y2="878.36" stroke-width="2.9" stroke-dasharray="11.1 9.8" stroke-dashoffset="7.1"/>
<line x1="1185.3" y1="909.15" x2="1886" y2="909.15" stroke-dasharray="7.4 5.3" stroke-dashoffset="2.4"/>
<line x1="1185.3" y1="939.94" x2="1886" y2="939.94" stroke-dasharray="7.4 5.3" stroke-dashoffset="2.4"/>
<line x1="1185.3" y1="970.73" x2="1886" y2="970.73" stroke-dasharray="7.4 5.3" stroke-dashoffset="2.4"/>
<line x1="1185.3" y1="1002.52" x2="1886" y2="1002.52" stroke-width="2.9" stroke-dasharray="11.1 9.8" stroke-dashoffset="7.1"/>
<line x1="1185.3" y1="1034.01" x2="1886" y2="1034.01" stroke-dasharray="7.4 5.3" stroke-dashoffset="2.4"/>
<line x1="1185.3" y1="1065.4" x2="1886" y2="1065.4" stroke-dasharray="7.4 5.3" stroke-dashoffset="2.4"/>
<line x1="1185.3" y1="1094.89" x2="1886" y2="1094.89" stroke-dasharray="7.4 5.3" stroke-dashoffset="2.4"/>
<line x1="1185.3" y1="1126.38" x2="1886" y2="1126.38" stroke-width="2.9" stroke-dasharray="11.1 9.8" stroke-dashoffset="7.1"/>
<line x1="1185.3" y1="1155.47" x2="1886" y2="1155.47" stroke-dasharray="7.4 5.3" stroke-dashoffset="2.4"/>
<line x1="1185.3" y1="1188.56" x2="1886" y2="1188.56" stroke-dasharray="7.4 5.3" stroke-dashoffset="2.4"/>
<line x1="1185.3" y1="1218.35" x2="1886" y2="1218.35" stroke-dasharray="7.4 5.3" stroke-dashoffset="2.4"/>
</g>
<g font-size="29.6" text-anchor="end">
<text transform="translate(1178.2 780.8) scale(1 1.035)">AA</text>
<text transform="translate(1178.2 811.69) scale(1 1.035)">CA</text>
<text transform="translate(1178.2 842.58) scale(1 1.035)">GA</text>
<text transform="translate(1178.2 873.47) scale(1 1.035)">TA</text>
<text transform="translate(1178.2 904.36) scale(1 1.035)">AC</text>
<text transform="translate(1178.2 935.25) scale(1 1.035)">CC</text>
<text transform="translate(1178.2 966.14) scale(1 1.035)">GC</text>
<text transform="translate(1178.2 997.03) scale(1 1.035)">TC</text>
<text transform="translate(1178.2 1027.92) scale(1 1.035)">AG</text>
<text transform="translate(1178.2 1058.81) scale(1 1.035)">CG</text>
<text transform="translate(1178.2 1089.7) scale(1 1.035)">GG</text>
<text transform="translate(1178.2 1120.59) scale(1 1.035)">TG</text>
<text transform="translate(1178.2 1151.48) scale(1 1.035)">AT</text>
<text transform="translate(1178.2 1182.37) scale(1 1.035)">CT</text>
<text transform="translate(1178.2 1213.26) scale(1 1.035)">GT</text>
<text transform="translate(1178.2 1244.15) scale(1 1.035)">TT</text>
</g>
<g font-size="29.6" text-anchor="end">
<text transform="translate(1218.8 1263.6) rotate(-45) scale(1 1.035)">AA</text>
<text transform="translate(1262.84 1263.6) rotate(-45) scale(1 1.035)">AC</text>
<text transform="translate(1306.88 1263.6) rotate(-45) scale(1 1.035)">AG</text>
<text transform="translate(1350.92 1263.6) rotate(-45) scale(1 1.035)">AT</text>
<text transform="translate(1394.96 1263.6) rotate(-45) scale(1 1.035)">CA</text>
<text transform="translate(1439 1263.6) rotate(-45) scale(1 1.035)">CC</text>
<text transform="translate(1483.04 1263.6) rotate(-45) scale(1 1.035)">CG</text>
<text transform="translate(1527.08 1263.6) rotate(-45) scale(1 1.035)">CT</text>
<text transform="translate(1571.12 1263.6) rotate(-45) scale(1 1.035)">GA</text>
<text transform="translate(1615.16 1263.6) rotate(-45) scale(1 1.035)">GC</text>
<text transform="translate(1659.2 1263.6) rotate(-45) scale(1 1.035)">GG</text>
<text transform="translate(1703.24 1263.6) rotate(-45) scale(1 1.035)">GT</text>
<text transform="translate(1747.28 1263.6) rotate(-45) scale(1 1.035)">TA</text>
<text transform="translate(1791.32 1263.6) rotate(-45) scale(1 1.035)">TC</text>
<text transform="translate(1835.36 1263.6) rotate(-45) scale(1 1.035)">TG</text>
<text transform="translate(1879.4 1263.6) rotate(-45) scale(1 1.035)">TT</text>
</g>
<text font-size="34.9" x="1293.5" y="1335.8">3rd and 4th<tspan dx="-2.4"> nucleotides</tspan><tspan dx="1"> of</tspan><tspan dx="0.5"> PAM</tspan></text>
<text font-size="35" text-anchor="middle" transform="translate(1112 1005.1) rotate(-90)">1st and 2nd nucleotides<tspan dx="-1.6"> of</tspan><tspan dx="3.8"> PAM</tspan></text>
<rect x="1901.5" y="784.9" width="51.2" height="45.3" fill="#ff00ff"/>
<rect x="1901.5" y="829.9" width="51.2" height="47.3" fill="#0000ff"/>
<rect x="1901.5" y="876.9" width="51.2" height="47" fill="#458b00"/>
<rect x="1901.5" y="923.6" width="51.2" height="47.4" fill="#d8bfd8"/>
<rect x="1901.5" y="970.7" width="51.2" height="47.4" fill="#ffa54f"/>
<rect x="1901.5" y="1017.8" width="51.2" height="47.7" fill="#00ced1"/>
<rect x="1901.5" y="1065.2" width="51.2" height="47.5" fill="#ff4500"/>
<rect x="1901.5" y="1112.4" width="51.2" height="47.2" fill="#8b4726"/>
<rect x="1901.5" y="1159.3" width="51.2" height="49" fill="#eeee00"/>
<g font-size="30">
<text x="1959.1" y="814.6">SpCas9</text>
<text x="1959.1" y="861.25">VRQR variant</text>
<text x="1959.1" y="907.9">SpCas9-NG</text>
<text x="1959.1" y="954.55">SpCas9-NRRH</text>
<text x="1959.1" y="1001.2">SpCas9-NRTH</text>
<text x="1959.1" y="1047.85">SpCas9-NRCH</text>
<text x="1959.1" y="1094.5">SpG</text>
<text x="1959.1" y="1141.15">SpRY</text>
<text x="1959.1" y="1187.8">Sc++</text>
</g>
</svg>
</body>
</html>
